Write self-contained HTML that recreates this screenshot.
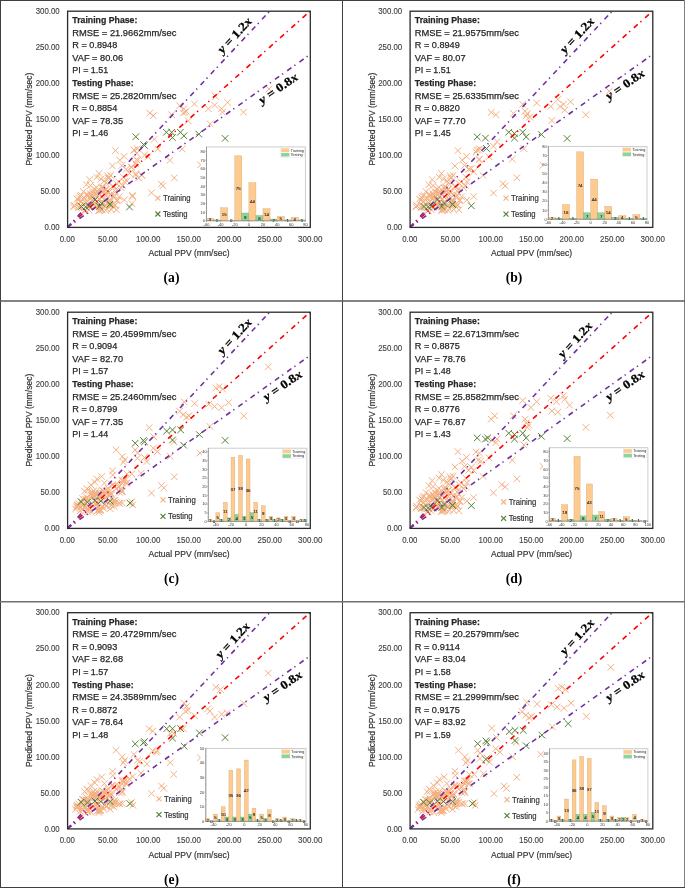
<!DOCTYPE html><html><head><meta charset="utf-8"><style>html,body{margin:0;padding:0;background:#fff;}svg{display:block;will-change:transform;font-family:"Liberation Sans",sans-serif;}</style></head><body>
<svg width="685" height="888" viewBox="0 0 685 888">
<rect width="685" height="888" fill="#fff"/>
<g transform="translate(0 0)">
<text x="59.70" y="230.30" font-size="8.4" fill="#404040" text-anchor="end" textLength="15.3" lengthAdjust="spacingAndGlyphs" stroke="#404040" stroke-width="0.12">0.00</text>
<text x="59.70" y="194.23" font-size="8.4" fill="#404040" text-anchor="end" textLength="19.2" lengthAdjust="spacingAndGlyphs" stroke="#404040" stroke-width="0.12">50.00</text>
<text x="59.70" y="158.17" font-size="8.4" fill="#404040" text-anchor="end" textLength="24.0" lengthAdjust="spacingAndGlyphs" stroke="#404040" stroke-width="0.12">100.00</text>
<text x="59.70" y="122.10" font-size="8.4" fill="#404040" text-anchor="end" textLength="24.0" lengthAdjust="spacingAndGlyphs" stroke="#404040" stroke-width="0.12">150.00</text>
<text x="59.70" y="86.03" font-size="8.4" fill="#404040" text-anchor="end" textLength="24.0" lengthAdjust="spacingAndGlyphs" stroke="#404040" stroke-width="0.12">200.00</text>
<text x="59.70" y="49.97" font-size="8.4" fill="#404040" text-anchor="end" textLength="24.0" lengthAdjust="spacingAndGlyphs" stroke="#404040" stroke-width="0.12">250.00</text>
<text x="59.70" y="13.90" font-size="8.4" fill="#404040" text-anchor="end" textLength="24.0" lengthAdjust="spacingAndGlyphs" stroke="#404040" stroke-width="0.12">300.00</text>
<text x="67.30" y="241.90" font-size="8.4" fill="#404040" text-anchor="middle" textLength="15.2" lengthAdjust="spacingAndGlyphs" stroke="#404040" stroke-width="0.12">0.00</text>
<text x="107.80" y="241.90" font-size="8.4" fill="#404040" text-anchor="middle" textLength="19.4" lengthAdjust="spacingAndGlyphs" stroke="#404040" stroke-width="0.12">50.00</text>
<text x="148.30" y="241.90" font-size="8.4" fill="#404040" text-anchor="middle" textLength="24.4" lengthAdjust="spacingAndGlyphs" stroke="#404040" stroke-width="0.12">100.00</text>
<text x="188.80" y="241.90" font-size="8.4" fill="#404040" text-anchor="middle" textLength="24.4" lengthAdjust="spacingAndGlyphs" stroke="#404040" stroke-width="0.12">150.00</text>
<text x="229.30" y="241.90" font-size="8.4" fill="#404040" text-anchor="middle" textLength="24.4" lengthAdjust="spacingAndGlyphs" stroke="#404040" stroke-width="0.12">200.00</text>
<text x="269.80" y="241.90" font-size="8.4" fill="#404040" text-anchor="middle" textLength="24.4" lengthAdjust="spacingAndGlyphs" stroke="#404040" stroke-width="0.12">250.00</text>
<text x="310.30" y="241.90" font-size="8.4" fill="#404040" text-anchor="middle" textLength="24.4" lengthAdjust="spacingAndGlyphs" stroke="#404040" stroke-width="0.12">300.00</text>
<text x="189.00" y="256.00" font-size="9.4" fill="#333" text-anchor="middle" textLength="81" lengthAdjust="spacingAndGlyphs" stroke="#333" stroke-width="0.2">Actual PPV (mm/sec)</text>
<g transform="translate(32.3 119.1) rotate(-90)"><text x="0.00" y="0.00" font-size="9.4" fill="#333" text-anchor="middle" textLength="92.6" lengthAdjust="spacingAndGlyphs" stroke="#333" stroke-width="0.2">Predicted PPV (mm/sec)</text></g>
<text x="171.50" y="282.00" font-size="13.6" font-family="Liberation Serif" font-weight="bold" fill="#000" text-anchor="middle">(a)</text>
<text x="72.30" y="23.00" font-size="9.9" font-weight="bold" fill="#262626" textLength="65.1" lengthAdjust="spacingAndGlyphs" stroke="#262626" stroke-width="0.25">Training Phase:</text>
<text x="72.30" y="35.60" font-size="9.9" fill="#262626" textLength="104" lengthAdjust="spacingAndGlyphs" stroke="#262626" stroke-width="0.25">RMSE = 21.9662mm/sec</text>
<text x="72.30" y="48.20" font-size="9.9" fill="#262626" textLength="45" lengthAdjust="spacingAndGlyphs" stroke="#262626" stroke-width="0.25">R = 0.8948</text>
<text x="72.30" y="60.80" font-size="9.9" fill="#262626" textLength="50.8" lengthAdjust="spacingAndGlyphs" stroke="#262626" stroke-width="0.25">VAF = 80.06</text>
<text x="72.30" y="73.40" font-size="9.9" fill="#262626" textLength="35.9" lengthAdjust="spacingAndGlyphs" stroke="#262626" stroke-width="0.25">PI = 1.51</text>
<text x="72.30" y="86.00" font-size="9.9" font-weight="bold" fill="#262626" textLength="61.3" lengthAdjust="spacingAndGlyphs" stroke="#262626" stroke-width="0.25">Testing Phase:</text>
<text x="72.30" y="98.60" font-size="9.9" fill="#262626" textLength="104" lengthAdjust="spacingAndGlyphs" stroke="#262626" stroke-width="0.25">RMSE = 25.2820mm/sec</text>
<text x="72.30" y="111.20" font-size="9.9" fill="#262626" textLength="45" lengthAdjust="spacingAndGlyphs" stroke="#262626" stroke-width="0.25">R = 0.8854</text>
<text x="72.30" y="123.80" font-size="9.9" fill="#262626" textLength="50.8" lengthAdjust="spacingAndGlyphs" stroke="#262626" stroke-width="0.25">VAF = 78.35</text>
<text x="72.30" y="136.40" font-size="9.9" fill="#262626" textLength="35.9" lengthAdjust="spacingAndGlyphs" stroke="#262626" stroke-width="0.25">PI = 1.46</text>
<path d="M76.8 202.7l6.6 6.6m0 -6.6l-6.6 6.6M83.2 191.0l6.6 6.6m0 -6.6l-6.6 6.6M104.2 200.7l6.6 6.6m0 -6.6l-6.6 6.6M71.2 202.3l6.6 6.6m0 -6.6l-6.6 6.6M93.3 198.5l6.6 6.6m0 -6.6l-6.6 6.6M98.4 205.7l6.6 6.6m0 -6.6l-6.6 6.6M92.9 191.1l6.6 6.6m0 -6.6l-6.6 6.6M70.8 202.3l6.6 6.6m0 -6.6l-6.6 6.6M115.3 178.7l6.6 6.6m0 -6.6l-6.6 6.6M92.1 202.1l6.6 6.6m0 -6.6l-6.6 6.6M112.0 188.4l6.6 6.6m0 -6.6l-6.6 6.6M98.8 197.9l6.6 6.6m0 -6.6l-6.6 6.6M89.6 189.2l6.6 6.6m0 -6.6l-6.6 6.6M111.0 191.9l6.6 6.6m0 -6.6l-6.6 6.6M101.1 187.7l6.6 6.6m0 -6.6l-6.6 6.6M96.3 207.1l6.6 6.6m0 -6.6l-6.6 6.6M98.3 203.1l6.6 6.6m0 -6.6l-6.6 6.6M96.9 206.1l6.6 6.6m0 -6.6l-6.6 6.6M98.7 206.3l6.6 6.6m0 -6.6l-6.6 6.6M108.9 201.4l6.6 6.6m0 -6.6l-6.6 6.6M99.5 188.8l6.6 6.6m0 -6.6l-6.6 6.6M115.8 193.5l6.6 6.6m0 -6.6l-6.6 6.6M96.5 190.7l6.6 6.6m0 -6.6l-6.6 6.6M88.0 192.5l6.6 6.6m0 -6.6l-6.6 6.6M102.2 189.8l6.6 6.6m0 -6.6l-6.6 6.6M111.9 201.6l6.6 6.6m0 -6.6l-6.6 6.6M114.3 196.9l6.6 6.6m0 -6.6l-6.6 6.6M109.7 182.9l6.6 6.6m0 -6.6l-6.6 6.6M102.8 186.1l6.6 6.6m0 -6.6l-6.6 6.6M78.2 192.1l6.6 6.6m0 -6.6l-6.6 6.6M84.2 198.2l6.6 6.6m0 -6.6l-6.6 6.6M86.8 190.3l6.6 6.6m0 -6.6l-6.6 6.6M90.2 188.6l6.6 6.6m0 -6.6l-6.6 6.6M75.5 204.4l6.6 6.6m0 -6.6l-6.6 6.6M80.8 194.7l6.6 6.6m0 -6.6l-6.6 6.6M77.5 198.4l6.6 6.6m0 -6.6l-6.6 6.6M107.0 197.1l6.6 6.6m0 -6.6l-6.6 6.6M81.4 206.9l6.6 6.6m0 -6.6l-6.6 6.6M104.1 187.7l6.6 6.6m0 -6.6l-6.6 6.6M86.7 195.5l6.6 6.6m0 -6.6l-6.6 6.6M85.5 206.6l6.6 6.6m0 -6.6l-6.6 6.6M85.9 203.0l6.6 6.6m0 -6.6l-6.6 6.6M70.1 203.7l6.6 6.6m0 -6.6l-6.6 6.6M113.1 206.5l6.6 6.6m0 -6.6l-6.6 6.6M107.0 191.5l6.6 6.6m0 -6.6l-6.6 6.6M105.4 189.0l6.6 6.6m0 -6.6l-6.6 6.6M75.2 196.7l6.6 6.6m0 -6.6l-6.6 6.6M87.9 203.8l6.6 6.6m0 -6.6l-6.6 6.6M95.4 207.2l6.6 6.6m0 -6.6l-6.6 6.6M78.7 204.8l6.6 6.6m0 -6.6l-6.6 6.6M85.1 203.3l6.6 6.6m0 -6.6l-6.6 6.6M76.9 192.9l6.6 6.6m0 -6.6l-6.6 6.6M87.8 195.0l6.6 6.6m0 -6.6l-6.6 6.6M89.7 193.5l6.6 6.6m0 -6.6l-6.6 6.6M111.4 202.0l6.6 6.6m0 -6.6l-6.6 6.6M75.8 203.9l6.6 6.6m0 -6.6l-6.6 6.6M82.4 207.3l6.6 6.6m0 -6.6l-6.6 6.6M82.5 199.3l6.6 6.6m0 -6.6l-6.6 6.6M117.9 184.4l6.6 6.6m0 -6.6l-6.6 6.6M85.4 194.4l6.6 6.6m0 -6.6l-6.6 6.6M121.1 178.4l6.6 6.6m0 -6.6l-6.6 6.6M102.4 207.0l6.6 6.6m0 -6.6l-6.6 6.6M106.2 196.5l6.6 6.6m0 -6.6l-6.6 6.6M98.4 184.8l6.6 6.6m0 -6.6l-6.6 6.6M103.8 205.7l6.6 6.6m0 -6.6l-6.6 6.6M86.5 202.7l6.6 6.6m0 -6.6l-6.6 6.6M98.5 193.8l6.6 6.6m0 -6.6l-6.6 6.6M73.7 195.7l6.6 6.6m0 -6.6l-6.6 6.6M113.2 185.3l6.6 6.6m0 -6.6l-6.6 6.6M97.0 205.0l6.6 6.6m0 -6.6l-6.6 6.6M78.1 198.3l6.6 6.6m0 -6.6l-6.6 6.6M93.7 187.8l6.6 6.6m0 -6.6l-6.6 6.6M104.0 188.5l6.6 6.6m0 -6.6l-6.6 6.6M83.4 202.1l6.6 6.6m0 -6.6l-6.6 6.6M91.0 194.9l6.6 6.6m0 -6.6l-6.6 6.6M96.2 196.1l6.6 6.6m0 -6.6l-6.6 6.6M106.1 198.8l6.6 6.6m0 -6.6l-6.6 6.6M95.9 190.5l6.6 6.6m0 -6.6l-6.6 6.6M96.8 203.7l6.6 6.6m0 -6.6l-6.6 6.6M110.3 203.8l6.6 6.6m0 -6.6l-6.6 6.6M106.4 202.7l6.6 6.6m0 -6.6l-6.6 6.6M106.9 199.0l6.6 6.6m0 -6.6l-6.6 6.6M99.9 199.7l6.6 6.6m0 -6.6l-6.6 6.6M105.8 198.4l6.6 6.6m0 -6.6l-6.6 6.6M90.0 201.2l6.6 6.6m0 -6.6l-6.6 6.6M76.0 194.5l6.6 6.6m0 -6.6l-6.6 6.6M82.9 199.4l6.6 6.6m0 -6.6l-6.6 6.6M101.8 202.3l6.6 6.6m0 -6.6l-6.6 6.6M84.8 192.6l6.6 6.6m0 -6.6l-6.6 6.6M110.5 193.5l6.6 6.6m0 -6.6l-6.6 6.6M100.0 185.0l6.6 6.6m0 -6.6l-6.6 6.6M88.6 192.1l6.6 6.6m0 -6.6l-6.6 6.6M93.1 189.5l6.6 6.6m0 -6.6l-6.6 6.6M90.9 200.5l6.6 6.6m0 -6.6l-6.6 6.6M95.8 196.1l6.6 6.6m0 -6.6l-6.6 6.6M94.2 202.2l6.6 6.6m0 -6.6l-6.6 6.6M102.6 192.2l6.6 6.6m0 -6.6l-6.6 6.6M103.6 196.1l6.6 6.6m0 -6.6l-6.6 6.6M91.3 195.5l6.6 6.6m0 -6.6l-6.6 6.6M101.8 186.2l6.6 6.6m0 -6.6l-6.6 6.6M95.9 186.7l6.6 6.6m0 -6.6l-6.6 6.6M83.1 181.4l6.6 6.6m0 -6.6l-6.6 6.6M84.2 191.4l6.6 6.6m0 -6.6l-6.6 6.6M80.1 188.2l6.6 6.6m0 -6.6l-6.6 6.6M95.7 170.1l6.6 6.6m0 -6.6l-6.6 6.6M104.3 172.4l6.6 6.6m0 -6.6l-6.6 6.6M84.5 192.7l6.6 6.6m0 -6.6l-6.6 6.6M105.1 174.8l6.6 6.6m0 -6.6l-6.6 6.6M97.7 175.8l6.6 6.6m0 -6.6l-6.6 6.6M102.5 179.7l6.6 6.6m0 -6.6l-6.6 6.6M91.1 185.7l6.6 6.6m0 -6.6l-6.6 6.6M87.2 182.3l6.6 6.6m0 -6.6l-6.6 6.6M107.2 172.0l6.6 6.6m0 -6.6l-6.6 6.6M86.4 176.3l6.6 6.6m0 -6.6l-6.6 6.6M146.5 109.7l6.6 6.6m0 -6.6l-6.6 6.6M150.0 112.4l6.6 6.6m0 -6.6l-6.6 6.6M168.4 111.5l6.6 6.6m0 -6.6l-6.6 6.6M176.3 102.4l6.6 6.6m0 -6.6l-6.6 6.6M180.6 105.4l6.6 6.6m0 -6.6l-6.6 6.6M181.5 108.9l6.6 6.6m0 -6.6l-6.6 6.6M180.1 109.7l6.6 6.6m0 -6.6l-6.6 6.6M182.9 108.0l6.6 6.6m0 -6.6l-6.6 6.6M191.1 100.6l6.6 6.6m0 -6.6l-6.6 6.6M185.0 117.6l6.6 6.6m0 -6.6l-6.6 6.6M205.2 105.4l6.6 6.6m0 -6.6l-6.6 6.6M212.2 93.1l6.6 6.6m0 -6.6l-6.6 6.6M211.3 101.9l6.6 6.6m0 -6.6l-6.6 6.6M218.3 105.4l6.6 6.6m0 -6.6l-6.6 6.6M219.2 108.9l6.6 6.6m0 -6.6l-6.6 6.6M224.4 99.2l6.6 6.6m0 -6.6l-6.6 6.6M240.2 108.9l6.6 6.6m0 -6.6l-6.6 6.6M206.9 120.6l6.6 6.6m0 -6.6l-6.6 6.6M150.9 136.0l6.6 6.6m0 -6.6l-6.6 6.6M154.4 145.7l6.6 6.6m0 -6.6l-6.6 6.6M130.7 146.5l6.6 6.6m0 -6.6l-6.6 6.6M133.3 150.0l6.6 6.6m0 -6.6l-6.6 6.6M141.2 151.8l6.6 6.6m0 -6.6l-6.6 6.6M144.7 153.5l6.6 6.6m0 -6.6l-6.6 6.6M178.9 145.7l6.6 6.6m0 -6.6l-6.6 6.6M166.6 157.0l6.6 6.6m0 -6.6l-6.6 6.6M134.2 157.0l6.6 6.6m0 -6.6l-6.6 6.6M132.5 160.5l6.6 6.6m0 -6.6l-6.6 6.6M128.1 164.0l6.6 6.6m0 -6.6l-6.6 6.6M126.3 170.2l6.6 6.6m0 -6.6l-6.6 6.6M138.6 171.9l6.6 6.6m0 -6.6l-6.6 6.6M171.0 174.6l6.6 6.6m0 -6.6l-6.6 6.6M157.9 180.7l6.6 6.6m0 -6.6l-6.6 6.6M159.6 182.4l6.6 6.6m0 -6.6l-6.6 6.6M148.2 189.5l6.6 6.6m0 -6.6l-6.6 6.6M129.0 192.1l6.6 6.6m0 -6.6l-6.6 6.6M197.3 161.6l6.6 6.6m0 -6.6l-6.6 6.6M265.7 85.7l6.6 6.6m0 -6.6l-6.6 6.6M112.1 147.3l6.6 6.6m0 -6.6l-6.6 6.6M120.8 153.1l6.6 6.6m0 -6.6l-6.6 6.6M116.4 156.8l6.6 6.6m0 -6.6l-6.6 6.6M109.1 162.6l6.6 6.6m0 -6.6l-6.6 6.6M118.6 162.2l6.6 6.6m0 -6.6l-6.6 6.6M131.0 146.9l6.6 6.6m0 -6.6l-6.6 6.6M134.0 145.5l6.6 6.6m0 -6.6l-6.6 6.6M133.2 156.4l6.6 6.6m0 -6.6l-6.6 6.6M128.1 163.7l6.6 6.6m0 -6.6l-6.6 6.6M123.0 165.9l6.6 6.6m0 -6.6l-6.6 6.6M93.4 173.9l6.6 6.6m0 -6.6l-6.6 6.6M101.1 177.6l6.6 6.6m0 -6.6l-6.6 6.6M105.5 174.7l6.6 6.6m0 -6.6l-6.6 6.6M120.1 173.9l6.6 6.6m0 -6.6l-6.6 6.6M123.7 177.6l6.6 6.6m0 -6.6l-6.6 6.6M132.5 171.7l6.6 6.6m0 -6.6l-6.6 6.6M113.5 180.5l6.6 6.6m0 -6.6l-6.6 6.6M119.4 182.0l6.6 6.6m0 -6.6l-6.6 6.6M135.4 174.7l6.6 6.6m0 -6.6l-6.6 6.6M93.1 184.1l6.6 6.6m0 -6.6l-6.6 6.6M99.7 183.4l6.6 6.6m0 -6.6l-6.6 6.6M109.1 183.4l6.6 6.6m0 -6.6l-6.6 6.6M121.1 196.6l6.6 6.6m0 -6.6l-6.6 6.6M129.3 193.3l6.6 6.6m0 -6.6l-6.6 6.6M128.6 200.3l6.6 6.6m0 -6.6l-6.6 6.6M113.6 197.4l6.6 6.6m0 -6.6l-6.6 6.6M107.8 206.1l6.6 6.6m0 -6.6l-6.6 6.6M138.4 171.8l6.6 6.6m0 -6.6l-6.6 6.6M132.6 170.3l6.6 6.6m0 -6.6l-6.6 6.6" stroke="#F4B183" stroke-width="1.0" fill="none"/>
<path d="M132.5 133.4l6.6 6.6m0 -6.6l-6.6 6.6M141.2 142.1l6.6 6.6m0 -6.6l-6.6 6.6M140.3 141.3l6.6 6.6m0 -6.6l-6.6 6.6M163.1 129.0l6.6 6.6m0 -6.6l-6.6 6.6M168.4 129.0l6.6 6.6m0 -6.6l-6.6 6.6M169.2 134.3l6.6 6.6m0 -6.6l-6.6 6.6M177.1 129.0l6.6 6.6m0 -6.6l-6.6 6.6M180.6 132.5l6.6 6.6m0 -6.6l-6.6 6.6M195.5 130.8l6.6 6.6m0 -6.6l-6.6 6.6M221.8 135.1l6.6 6.6m0 -6.6l-6.6 6.6M78.2 203.2l6.6 6.6m0 -6.6l-6.6 6.6M82.5 203.6l6.6 6.6m0 -6.6l-6.6 6.6M86.0 202.7l6.6 6.6m0 -6.6l-6.6 6.6M91.7 196.6l6.6 6.6m0 -6.6l-6.6 6.6M96.1 203.2l6.6 6.6m0 -6.6l-6.6 6.6M98.3 200.1l6.6 6.6m0 -6.6l-6.6 6.6M106.6 201.0l6.6 6.6m0 -6.6l-6.6 6.6M126.2 203.7l6.6 6.6m0 -6.6l-6.6 6.6M106.7 201.0l6.6 6.6m0 -6.6l-6.6 6.6" stroke="#548235" stroke-width="1.0" fill="none"/>
<rect x="200.8" y="145.4" width="105.79999999999995" height="81.19999999999999" fill="#fff"/>
<rect x="206.5" y="146.9" width="98.89999999999998" height="73.9" fill="none" stroke="#C8C8C8" stroke-width="0.9"/>
<rect x="206.50" y="218.20" width="7.06" height="2.60" fill="#FDCA8F" stroke="#D4A26A" stroke-width="0.35"/>
<text x="210.03" y="221.10" font-size="4.4" fill="#222" text-anchor="middle" stroke="#222" stroke-width="0.1">3</text>
<rect x="213.56" y="219.93" width="7.06" height="0.87" fill="#8FD39A" stroke="#5DA86A" stroke-width="0.35"/>
<text x="217.10" y="221.97" font-size="4.4" fill="#222" text-anchor="middle" stroke="#222" stroke-width="0.1">1</text>
<rect x="220.63" y="207.81" width="7.06" height="12.99" fill="#FDCA8F" stroke="#D4A26A" stroke-width="0.35"/>
<text x="224.16" y="215.91" font-size="4.4" fill="#222" text-anchor="middle" stroke="#222" stroke-width="0.1">15</text>
<text x="231.23" y="222.40" font-size="4.4" fill="#222" text-anchor="middle" stroke="#222" stroke-width="0.1">0</text>
<rect x="234.76" y="155.85" width="7.06" height="64.95" fill="#FDCA8F" stroke="#D4A26A" stroke-width="0.35"/>
<text x="238.29" y="189.93" font-size="4.4" fill="#222" text-anchor="middle" stroke="#222" stroke-width="0.1">75</text>
<rect x="241.82" y="213.01" width="7.06" height="7.79" fill="#8FD39A" stroke="#5DA86A" stroke-width="0.35"/>
<text x="245.35" y="218.50" font-size="4.4" fill="#222" text-anchor="middle" stroke="#222" stroke-width="0.1">9</text>
<rect x="248.89" y="182.70" width="7.06" height="38.10" fill="#FDCA8F" stroke="#D4A26A" stroke-width="0.35"/>
<text x="252.42" y="203.35" font-size="4.4" fill="#222" text-anchor="middle" stroke="#222" stroke-width="0.1">44</text>
<rect x="255.95" y="215.60" width="7.06" height="5.20" fill="#8FD39A" stroke="#5DA86A" stroke-width="0.35"/>
<text x="259.48" y="219.80" font-size="4.4" fill="#222" text-anchor="middle" stroke="#222" stroke-width="0.1">6</text>
<rect x="263.01" y="208.68" width="7.06" height="12.12" fill="#FDCA8F" stroke="#D4A26A" stroke-width="0.35"/>
<text x="266.55" y="216.34" font-size="4.4" fill="#222" text-anchor="middle" stroke="#222" stroke-width="0.1">14</text>
<rect x="270.08" y="219.07" width="7.06" height="1.73" fill="#8FD39A" stroke="#5DA86A" stroke-width="0.35"/>
<text x="273.61" y="221.53" font-size="4.4" fill="#222" text-anchor="middle" stroke="#222" stroke-width="0.1">2</text>
<rect x="277.14" y="216.47" width="7.06" height="4.33" fill="#FDCA8F" stroke="#D4A26A" stroke-width="0.35"/>
<text x="280.67" y="220.24" font-size="4.4" fill="#222" text-anchor="middle" stroke="#222" stroke-width="0.1">5</text>
<rect x="284.21" y="219.93" width="7.06" height="0.87" fill="#8FD39A" stroke="#5DA86A" stroke-width="0.35"/>
<text x="287.74" y="221.97" font-size="4.4" fill="#222" text-anchor="middle" stroke="#222" stroke-width="0.1">1</text>
<rect x="291.27" y="217.34" width="7.06" height="3.46" fill="#FDCA8F" stroke="#D4A26A" stroke-width="0.35"/>
<text x="294.80" y="220.67" font-size="4.4" fill="#222" text-anchor="middle" stroke="#222" stroke-width="0.1">4</text>
<rect x="298.34" y="219.93" width="7.06" height="0.87" fill="#8FD39A" stroke="#5DA86A" stroke-width="0.35"/>
<text x="301.87" y="221.97" font-size="4.4" fill="#222" text-anchor="middle" stroke="#222" stroke-width="0.1">1</text>
<path d="M206.5 146.9V220.8H305.4" fill="none" stroke="#777" stroke-width="0.6"/>
<path d="M205.30 220.80H206.5" stroke="#777" stroke-width="0.5"/>
<text x="204.90" y="222.20" font-size="4.0" fill="#333" text-anchor="end">0</text>
<path d="M205.80 216.47H206.5" stroke="#777" stroke-width="0.4"/>
<path d="M205.30 212.14H206.5" stroke="#777" stroke-width="0.5"/>
<text x="204.90" y="213.54" font-size="4.0" fill="#333" text-anchor="end">10</text>
<path d="M205.80 207.81H206.5" stroke="#777" stroke-width="0.4"/>
<path d="M205.30 203.48H206.5" stroke="#777" stroke-width="0.5"/>
<text x="204.90" y="204.88" font-size="4.0" fill="#333" text-anchor="end">20</text>
<path d="M205.80 199.15H206.5" stroke="#777" stroke-width="0.4"/>
<path d="M205.30 194.82H206.5" stroke="#777" stroke-width="0.5"/>
<text x="204.90" y="196.22" font-size="4.0" fill="#333" text-anchor="end">30</text>
<path d="M205.80 190.49H206.5" stroke="#777" stroke-width="0.4"/>
<path d="M205.30 186.16H206.5" stroke="#777" stroke-width="0.5"/>
<text x="204.90" y="187.56" font-size="4.0" fill="#333" text-anchor="end">40</text>
<path d="M205.80 181.83H206.5" stroke="#777" stroke-width="0.4"/>
<path d="M205.30 177.50H206.5" stroke="#777" stroke-width="0.5"/>
<text x="204.90" y="178.90" font-size="4.0" fill="#333" text-anchor="end">50</text>
<path d="M205.80 173.17H206.5" stroke="#777" stroke-width="0.4"/>
<path d="M205.30 168.84H206.5" stroke="#777" stroke-width="0.5"/>
<text x="204.90" y="170.24" font-size="4.0" fill="#333" text-anchor="end">60</text>
<path d="M205.80 164.51H206.5" stroke="#777" stroke-width="0.4"/>
<path d="M205.30 160.18H206.5" stroke="#777" stroke-width="0.5"/>
<text x="204.90" y="161.58" font-size="4.0" fill="#333" text-anchor="end">70</text>
<path d="M205.80 155.85H206.5" stroke="#777" stroke-width="0.4"/>
<path d="M205.30 151.52H206.5" stroke="#777" stroke-width="0.5"/>
<text x="204.90" y="152.92" font-size="4.0" fill="#333" text-anchor="end">80</text>
<path d="M206.50 220.8V222.0" stroke="#777" stroke-width="0.5"/>
<text x="206.50" y="225.60" font-size="4.0" fill="#333" text-anchor="middle">-60</text>
<path d="M220.63 220.8V222.0" stroke="#777" stroke-width="0.5"/>
<text x="220.63" y="225.60" font-size="4.0" fill="#333" text-anchor="middle">-40</text>
<path d="M234.76 220.8V222.0" stroke="#777" stroke-width="0.5"/>
<text x="234.76" y="225.60" font-size="4.0" fill="#333" text-anchor="middle">-20</text>
<path d="M248.89 220.8V222.0" stroke="#777" stroke-width="0.5"/>
<text x="248.89" y="225.60" font-size="4.0" fill="#333" text-anchor="middle">0</text>
<path d="M263.01 220.8V222.0" stroke="#777" stroke-width="0.5"/>
<text x="263.01" y="225.60" font-size="4.0" fill="#333" text-anchor="middle">20</text>
<path d="M277.14 220.8V222.0" stroke="#777" stroke-width="0.5"/>
<text x="277.14" y="225.60" font-size="4.0" fill="#333" text-anchor="middle">40</text>
<path d="M291.27 220.8V222.0" stroke="#777" stroke-width="0.5"/>
<text x="291.27" y="225.60" font-size="4.0" fill="#333" text-anchor="middle">60</text>
<path d="M305.40 220.8V222.0" stroke="#777" stroke-width="0.5"/>
<text x="305.40" y="225.60" font-size="4.0" fill="#333" text-anchor="middle">80</text>
<rect x="280.80" y="147.70" width="23.4" height="9.5" fill="#fff" stroke="#E0E0E0" stroke-width="0.4"/>
<rect x="281.10" y="148.30" width="8.3" height="3.7" fill="#FDCA8F"/>
<rect x="281.10" y="152.90" width="8.3" height="3.7" fill="#8FD39A"/>
<text x="290.70" y="151.50" font-size="4.0" fill="#222" textLength="13" lengthAdjust="spacingAndGlyphs">Training</text>
<text x="290.70" y="156.10" font-size="4.0" fill="#222" textLength="12" lengthAdjust="spacingAndGlyphs">Testing</text>
<clipPath id="clipa"><rect x="67.3" y="11.0" width="243.0" height="216.4"/></clipPath>
<g clip-path="url(#clipa)" fill="none" stroke-width="1.6" stroke-dasharray="5.2 3.6 1.3 4.9">
<line x1="67.3" y1="227.4" x2="310.3" y2="11.0" stroke="#FF0000"/>
<line x1="67.3" y1="227.4" x2="269.8" y2="11.0" stroke="#7030A0"/>
<line x1="67.3" y1="227.4" x2="310.3" y2="54.28" stroke="#7030A0"/>
</g>
<rect x="67.6" y="11.2" width="242.7" height="216.2" fill="none" stroke="#2a2a2a" stroke-width="1.3"/>
<g transform="translate(222.5 54.099999999999994) rotate(-47)"><text x="0.00" y="0.00" font-size="12.0" font-family="Liberation Serif" font-weight="bold" fill="#000" textLength="44" lengthAdjust="spacingAndGlyphs" stroke="#000" stroke-width="0.25"><tspan font-style="italic">y</tspan> = 1.2<tspan font-style="italic">x</tspan></text></g>
<g transform="translate(262.1 104.2) rotate(-34.5)"><text x="0.00" y="0.00" font-size="11.8" font-family="Liberation Serif" font-weight="bold" fill="#000" textLength="44.5" lengthAdjust="spacingAndGlyphs" stroke="#000" stroke-width="0.25"><tspan font-style="italic">y</tspan> = 0.8<tspan font-style="italic">x</tspan></text></g>
<path d="M155.4 195.6L160.4 200.6M155.4 200.6L160.4 195.6" stroke="#F4B183" stroke-width="1.2"/>
<text x="163.00" y="200.90" font-size="9.2" fill="#333" textLength="27.6" lengthAdjust="spacingAndGlyphs" stroke="#333" stroke-width="0.2">Training</text>
<path d="M155.4 211.5L160.4 216.5M155.4 216.5L160.4 211.5" stroke="#548235" stroke-width="1.2"/>
<text x="163.00" y="216.80" font-size="9.2" fill="#333" textLength="24.5" lengthAdjust="spacingAndGlyphs" stroke="#333" stroke-width="0.2">Testing</text>
</g>
<g transform="translate(342.5 0)">
<text x="59.70" y="230.30" font-size="8.4" fill="#404040" text-anchor="end" textLength="15.3" lengthAdjust="spacingAndGlyphs" stroke="#404040" stroke-width="0.12">0.00</text>
<text x="59.70" y="194.23" font-size="8.4" fill="#404040" text-anchor="end" textLength="19.2" lengthAdjust="spacingAndGlyphs" stroke="#404040" stroke-width="0.12">50.00</text>
<text x="59.70" y="158.17" font-size="8.4" fill="#404040" text-anchor="end" textLength="24.0" lengthAdjust="spacingAndGlyphs" stroke="#404040" stroke-width="0.12">100.00</text>
<text x="59.70" y="122.10" font-size="8.4" fill="#404040" text-anchor="end" textLength="24.0" lengthAdjust="spacingAndGlyphs" stroke="#404040" stroke-width="0.12">150.00</text>
<text x="59.70" y="86.03" font-size="8.4" fill="#404040" text-anchor="end" textLength="24.0" lengthAdjust="spacingAndGlyphs" stroke="#404040" stroke-width="0.12">200.00</text>
<text x="59.70" y="49.97" font-size="8.4" fill="#404040" text-anchor="end" textLength="24.0" lengthAdjust="spacingAndGlyphs" stroke="#404040" stroke-width="0.12">250.00</text>
<text x="59.70" y="13.90" font-size="8.4" fill="#404040" text-anchor="end" textLength="24.0" lengthAdjust="spacingAndGlyphs" stroke="#404040" stroke-width="0.12">300.00</text>
<text x="67.30" y="241.90" font-size="8.4" fill="#404040" text-anchor="middle" textLength="15.2" lengthAdjust="spacingAndGlyphs" stroke="#404040" stroke-width="0.12">0.00</text>
<text x="107.80" y="241.90" font-size="8.4" fill="#404040" text-anchor="middle" textLength="19.4" lengthAdjust="spacingAndGlyphs" stroke="#404040" stroke-width="0.12">50.00</text>
<text x="148.30" y="241.90" font-size="8.4" fill="#404040" text-anchor="middle" textLength="24.4" lengthAdjust="spacingAndGlyphs" stroke="#404040" stroke-width="0.12">100.00</text>
<text x="188.80" y="241.90" font-size="8.4" fill="#404040" text-anchor="middle" textLength="24.4" lengthAdjust="spacingAndGlyphs" stroke="#404040" stroke-width="0.12">150.00</text>
<text x="229.30" y="241.90" font-size="8.4" fill="#404040" text-anchor="middle" textLength="24.4" lengthAdjust="spacingAndGlyphs" stroke="#404040" stroke-width="0.12">200.00</text>
<text x="269.80" y="241.90" font-size="8.4" fill="#404040" text-anchor="middle" textLength="24.4" lengthAdjust="spacingAndGlyphs" stroke="#404040" stroke-width="0.12">250.00</text>
<text x="310.30" y="241.90" font-size="8.4" fill="#404040" text-anchor="middle" textLength="24.4" lengthAdjust="spacingAndGlyphs" stroke="#404040" stroke-width="0.12">300.00</text>
<text x="189.00" y="256.00" font-size="9.4" fill="#333" text-anchor="middle" textLength="81" lengthAdjust="spacingAndGlyphs" stroke="#333" stroke-width="0.2">Actual PPV (mm/sec)</text>
<g transform="translate(32.3 119.1) rotate(-90)"><text x="0.00" y="0.00" font-size="9.4" fill="#333" text-anchor="middle" textLength="92.6" lengthAdjust="spacingAndGlyphs" stroke="#333" stroke-width="0.2">Predicted PPV (mm/sec)</text></g>
<text x="171.50" y="282.00" font-size="13.6" font-family="Liberation Serif" font-weight="bold" fill="#000" text-anchor="middle">(b)</text>
<text x="72.30" y="23.00" font-size="9.9" font-weight="bold" fill="#262626" textLength="65.1" lengthAdjust="spacingAndGlyphs" stroke="#262626" stroke-width="0.25">Training Phase:</text>
<text x="72.30" y="35.60" font-size="9.9" fill="#262626" textLength="104" lengthAdjust="spacingAndGlyphs" stroke="#262626" stroke-width="0.25">RMSE = 21.9575mm/sec</text>
<text x="72.30" y="48.20" font-size="9.9" fill="#262626" textLength="45" lengthAdjust="spacingAndGlyphs" stroke="#262626" stroke-width="0.25">R = 0.8949</text>
<text x="72.30" y="60.80" font-size="9.9" fill="#262626" textLength="50.8" lengthAdjust="spacingAndGlyphs" stroke="#262626" stroke-width="0.25">VAF = 80.07</text>
<text x="72.30" y="73.40" font-size="9.9" fill="#262626" textLength="35.9" lengthAdjust="spacingAndGlyphs" stroke="#262626" stroke-width="0.25">PI = 1.51</text>
<text x="72.30" y="86.00" font-size="9.9" font-weight="bold" fill="#262626" textLength="61.3" lengthAdjust="spacingAndGlyphs" stroke="#262626" stroke-width="0.25">Testing Phase:</text>
<text x="72.30" y="98.60" font-size="9.9" fill="#262626" textLength="104" lengthAdjust="spacingAndGlyphs" stroke="#262626" stroke-width="0.25">RMSE = 25.6335mm/sec</text>
<text x="72.30" y="111.20" font-size="9.9" fill="#262626" textLength="45" lengthAdjust="spacingAndGlyphs" stroke="#262626" stroke-width="0.25">R = 0.8820</text>
<text x="72.30" y="123.80" font-size="9.9" fill="#262626" textLength="50.8" lengthAdjust="spacingAndGlyphs" stroke="#262626" stroke-width="0.25">VAF = 77.70</text>
<text x="72.30" y="136.40" font-size="9.9" fill="#262626" textLength="35.9" lengthAdjust="spacingAndGlyphs" stroke="#262626" stroke-width="0.25">PI = 1.45</text>
<path d="M76.8 202.7l6.6 6.6m0 -6.6l-6.6 6.6M83.2 191.0l6.6 6.6m0 -6.6l-6.6 6.6M104.2 200.7l6.6 6.6m0 -6.6l-6.6 6.6M71.2 202.3l6.6 6.6m0 -6.6l-6.6 6.6M93.3 198.5l6.6 6.6m0 -6.6l-6.6 6.6M98.4 205.7l6.6 6.6m0 -6.6l-6.6 6.6M92.9 191.1l6.6 6.6m0 -6.6l-6.6 6.6M70.8 202.3l6.6 6.6m0 -6.6l-6.6 6.6M115.3 178.7l6.6 6.6m0 -6.6l-6.6 6.6M92.1 202.1l6.6 6.6m0 -6.6l-6.6 6.6M112.0 188.4l6.6 6.6m0 -6.6l-6.6 6.6M98.8 197.9l6.6 6.6m0 -6.6l-6.6 6.6M89.6 189.2l6.6 6.6m0 -6.6l-6.6 6.6M111.0 191.9l6.6 6.6m0 -6.6l-6.6 6.6M101.1 187.7l6.6 6.6m0 -6.6l-6.6 6.6M96.3 207.1l6.6 6.6m0 -6.6l-6.6 6.6M98.3 203.1l6.6 6.6m0 -6.6l-6.6 6.6M96.9 206.1l6.6 6.6m0 -6.6l-6.6 6.6M98.7 206.3l6.6 6.6m0 -6.6l-6.6 6.6M108.9 201.4l6.6 6.6m0 -6.6l-6.6 6.6M99.5 188.8l6.6 6.6m0 -6.6l-6.6 6.6M115.8 193.5l6.6 6.6m0 -6.6l-6.6 6.6M96.5 190.7l6.6 6.6m0 -6.6l-6.6 6.6M88.0 192.5l6.6 6.6m0 -6.6l-6.6 6.6M102.2 189.8l6.6 6.6m0 -6.6l-6.6 6.6M111.9 201.6l6.6 6.6m0 -6.6l-6.6 6.6M114.3 196.9l6.6 6.6m0 -6.6l-6.6 6.6M109.7 182.9l6.6 6.6m0 -6.6l-6.6 6.6M102.8 186.1l6.6 6.6m0 -6.6l-6.6 6.6M78.2 192.1l6.6 6.6m0 -6.6l-6.6 6.6M84.2 198.2l6.6 6.6m0 -6.6l-6.6 6.6M86.8 190.3l6.6 6.6m0 -6.6l-6.6 6.6M90.2 188.6l6.6 6.6m0 -6.6l-6.6 6.6M75.5 204.4l6.6 6.6m0 -6.6l-6.6 6.6M80.8 194.7l6.6 6.6m0 -6.6l-6.6 6.6M77.5 198.4l6.6 6.6m0 -6.6l-6.6 6.6M107.0 197.1l6.6 6.6m0 -6.6l-6.6 6.6M81.4 206.9l6.6 6.6m0 -6.6l-6.6 6.6M104.1 187.7l6.6 6.6m0 -6.6l-6.6 6.6M86.7 195.5l6.6 6.6m0 -6.6l-6.6 6.6M85.5 206.6l6.6 6.6m0 -6.6l-6.6 6.6M85.9 203.0l6.6 6.6m0 -6.6l-6.6 6.6M70.1 203.7l6.6 6.6m0 -6.6l-6.6 6.6M113.1 206.5l6.6 6.6m0 -6.6l-6.6 6.6M107.0 191.5l6.6 6.6m0 -6.6l-6.6 6.6M105.4 189.0l6.6 6.6m0 -6.6l-6.6 6.6M75.2 196.7l6.6 6.6m0 -6.6l-6.6 6.6M87.9 203.8l6.6 6.6m0 -6.6l-6.6 6.6M95.4 207.2l6.6 6.6m0 -6.6l-6.6 6.6M78.7 204.8l6.6 6.6m0 -6.6l-6.6 6.6M85.1 203.3l6.6 6.6m0 -6.6l-6.6 6.6M76.9 192.9l6.6 6.6m0 -6.6l-6.6 6.6M87.8 195.0l6.6 6.6m0 -6.6l-6.6 6.6M89.7 193.5l6.6 6.6m0 -6.6l-6.6 6.6M111.4 202.0l6.6 6.6m0 -6.6l-6.6 6.6M75.8 203.9l6.6 6.6m0 -6.6l-6.6 6.6M82.4 207.3l6.6 6.6m0 -6.6l-6.6 6.6M82.5 199.3l6.6 6.6m0 -6.6l-6.6 6.6M117.9 184.4l6.6 6.6m0 -6.6l-6.6 6.6M85.4 194.4l6.6 6.6m0 -6.6l-6.6 6.6M121.1 178.4l6.6 6.6m0 -6.6l-6.6 6.6M102.4 207.0l6.6 6.6m0 -6.6l-6.6 6.6M106.2 196.5l6.6 6.6m0 -6.6l-6.6 6.6M98.4 184.8l6.6 6.6m0 -6.6l-6.6 6.6M103.8 205.7l6.6 6.6m0 -6.6l-6.6 6.6M86.5 202.7l6.6 6.6m0 -6.6l-6.6 6.6M98.5 193.8l6.6 6.6m0 -6.6l-6.6 6.6M73.7 195.7l6.6 6.6m0 -6.6l-6.6 6.6M113.2 185.3l6.6 6.6m0 -6.6l-6.6 6.6M97.0 205.0l6.6 6.6m0 -6.6l-6.6 6.6M78.1 198.3l6.6 6.6m0 -6.6l-6.6 6.6M93.7 187.8l6.6 6.6m0 -6.6l-6.6 6.6M104.0 188.5l6.6 6.6m0 -6.6l-6.6 6.6M83.4 202.1l6.6 6.6m0 -6.6l-6.6 6.6M91.0 194.9l6.6 6.6m0 -6.6l-6.6 6.6M96.2 196.1l6.6 6.6m0 -6.6l-6.6 6.6M106.1 198.8l6.6 6.6m0 -6.6l-6.6 6.6M95.9 190.5l6.6 6.6m0 -6.6l-6.6 6.6M96.8 203.7l6.6 6.6m0 -6.6l-6.6 6.6M110.3 203.8l6.6 6.6m0 -6.6l-6.6 6.6M106.4 202.7l6.6 6.6m0 -6.6l-6.6 6.6M106.9 199.0l6.6 6.6m0 -6.6l-6.6 6.6M99.9 199.7l6.6 6.6m0 -6.6l-6.6 6.6M105.8 198.4l6.6 6.6m0 -6.6l-6.6 6.6M90.0 201.2l6.6 6.6m0 -6.6l-6.6 6.6M76.0 194.5l6.6 6.6m0 -6.6l-6.6 6.6M82.9 199.4l6.6 6.6m0 -6.6l-6.6 6.6M101.8 202.3l6.6 6.6m0 -6.6l-6.6 6.6M84.8 192.6l6.6 6.6m0 -6.6l-6.6 6.6M110.5 193.5l6.6 6.6m0 -6.6l-6.6 6.6M100.0 185.0l6.6 6.6m0 -6.6l-6.6 6.6M88.6 192.1l6.6 6.6m0 -6.6l-6.6 6.6M93.1 189.5l6.6 6.6m0 -6.6l-6.6 6.6M90.9 200.5l6.6 6.6m0 -6.6l-6.6 6.6M95.8 196.1l6.6 6.6m0 -6.6l-6.6 6.6M94.2 202.2l6.6 6.6m0 -6.6l-6.6 6.6M102.6 192.2l6.6 6.6m0 -6.6l-6.6 6.6M103.6 196.1l6.6 6.6m0 -6.6l-6.6 6.6M91.3 195.5l6.6 6.6m0 -6.6l-6.6 6.6M101.8 186.2l6.6 6.6m0 -6.6l-6.6 6.6M95.9 186.7l6.6 6.6m0 -6.6l-6.6 6.6M83.1 181.4l6.6 6.6m0 -6.6l-6.6 6.6M84.2 191.4l6.6 6.6m0 -6.6l-6.6 6.6M80.1 188.2l6.6 6.6m0 -6.6l-6.6 6.6M95.7 170.1l6.6 6.6m0 -6.6l-6.6 6.6M104.3 172.4l6.6 6.6m0 -6.6l-6.6 6.6M84.5 192.7l6.6 6.6m0 -6.6l-6.6 6.6M105.1 174.8l6.6 6.6m0 -6.6l-6.6 6.6M97.7 175.8l6.6 6.6m0 -6.6l-6.6 6.6M102.5 179.7l6.6 6.6m0 -6.6l-6.6 6.6M91.1 185.7l6.6 6.6m0 -6.6l-6.6 6.6M87.2 182.3l6.6 6.6m0 -6.6l-6.6 6.6M107.2 172.0l6.6 6.6m0 -6.6l-6.6 6.6M86.4 176.3l6.6 6.6m0 -6.6l-6.6 6.6M112.1 147.3l6.6 6.6m0 -6.6l-6.6 6.6M120.8 153.1l6.6 6.6m0 -6.6l-6.6 6.6M116.4 156.8l6.6 6.6m0 -6.6l-6.6 6.6M109.1 162.6l6.6 6.6m0 -6.6l-6.6 6.6M118.6 162.2l6.6 6.6m0 -6.6l-6.6 6.6M123.0 165.9l6.6 6.6m0 -6.6l-6.6 6.6M93.4 173.9l6.6 6.6m0 -6.6l-6.6 6.6M101.1 177.6l6.6 6.6m0 -6.6l-6.6 6.6M105.5 174.7l6.6 6.6m0 -6.6l-6.6 6.6M120.1 173.9l6.6 6.6m0 -6.6l-6.6 6.6M113.5 180.5l6.6 6.6m0 -6.6l-6.6 6.6M119.4 182.0l6.6 6.6m0 -6.6l-6.6 6.6M93.1 184.1l6.6 6.6m0 -6.6l-6.6 6.6M99.7 183.4l6.6 6.6m0 -6.6l-6.6 6.6M109.1 183.4l6.6 6.6m0 -6.6l-6.6 6.6M121.1 196.6l6.6 6.6m0 -6.6l-6.6 6.6M113.6 197.4l6.6 6.6m0 -6.6l-6.6 6.6M107.8 206.1l6.6 6.6m0 -6.6l-6.6 6.6M263.4 88.0l6.6 6.6m0 -6.6l-6.6 6.6M240.0 111.4l6.6 6.6m0 -6.6l-6.6 6.6M224.8 98.5l6.6 6.6m0 -6.6l-6.6 6.6M217.8 100.9l6.6 6.6m0 -6.6l-6.6 6.6M212.0 96.2l6.6 6.6m0 -6.6l-6.6 6.6M214.3 103.2l6.6 6.6m0 -6.6l-6.6 6.6M219.0 106.7l6.6 6.6m0 -6.6l-6.6 6.6M205.0 103.2l6.6 6.6m0 -6.6l-6.6 6.6M190.9 99.7l6.6 6.6m0 -6.6l-6.6 6.6M176.9 100.9l6.6 6.6m0 -6.6l-6.6 6.6M179.3 107.9l6.6 6.6m0 -6.6l-6.6 6.6M181.6 110.2l6.6 6.6m0 -6.6l-6.6 6.6M180.4 112.6l6.6 6.6m0 -6.6l-6.6 6.6M183.9 113.7l6.6 6.6m0 -6.6l-6.6 6.6M206.1 117.2l6.6 6.6m0 -6.6l-6.6 6.6M167.6 110.2l6.6 6.6m0 -6.6l-6.6 6.6M145.4 109.1l6.6 6.6m0 -6.6l-6.6 6.6M150.1 111.4l6.6 6.6m0 -6.6l-6.6 6.6M147.7 142.9l6.6 6.6m0 -6.6l-6.6 6.6M151.2 138.3l6.6 6.6m0 -6.6l-6.6 6.6M132.5 146.4l6.6 6.6m0 -6.6l-6.6 6.6M130.2 148.8l6.6 6.6m0 -6.6l-6.6 6.6M133.7 155.8l6.6 6.6m0 -6.6l-6.6 6.6M143.1 153.4l6.6 6.6m0 -6.6l-6.6 6.6M166.4 155.8l6.6 6.6m0 -6.6l-6.6 6.6M178.1 145.3l6.6 6.6m0 -6.6l-6.6 6.6M125.5 165.1l6.6 6.6m0 -6.6l-6.6 6.6M127.9 168.6l6.6 6.6m0 -6.6l-6.6 6.6M137.2 172.1l6.6 6.6m0 -6.6l-6.6 6.6M171.1 174.5l6.6 6.6m0 -6.6l-6.6 6.6M157.1 180.3l6.6 6.6m0 -6.6l-6.6 6.6M159.4 182.6l6.6 6.6m0 -6.6l-6.6 6.6M147.7 189.7l6.6 6.6m0 -6.6l-6.6 6.6M127.9 193.2l6.6 6.6m0 -6.6l-6.6 6.6M197.2 162.0l6.6 6.6m0 -6.6l-6.6 6.6M133.2 156.4l6.6 6.6m0 -6.6l-6.6 6.6M123.0 165.9l6.6 6.6m0 -6.6l-6.6 6.6M131.0 146.9l6.6 6.6m0 -6.6l-6.6 6.6M134.0 145.5l6.6 6.6m0 -6.6l-6.6 6.6" stroke="#F4B183" stroke-width="1.0" fill="none"/>
<path d="M78.2 203.2l6.6 6.6m0 -6.6l-6.6 6.6M82.5 203.6l6.6 6.6m0 -6.6l-6.6 6.6M86.0 202.7l6.6 6.6m0 -6.6l-6.6 6.6M91.7 196.6l6.6 6.6m0 -6.6l-6.6 6.6M96.1 203.2l6.6 6.6m0 -6.6l-6.6 6.6M98.3 200.1l6.6 6.6m0 -6.6l-6.6 6.6M106.6 201.0l6.6 6.6m0 -6.6l-6.6 6.6M106.7 201.0l6.6 6.6m0 -6.6l-6.6 6.6M131.4 133.6l6.6 6.6m0 -6.6l-6.6 6.6M139.6 134.8l6.6 6.6m0 -6.6l-6.6 6.6M140.7 145.3l6.6 6.6m0 -6.6l-6.6 6.6M162.9 128.9l6.6 6.6m0 -6.6l-6.6 6.6M168.7 130.1l6.6 6.6m0 -6.6l-6.6 6.6M168.7 134.8l6.6 6.6m0 -6.6l-6.6 6.6M176.9 128.9l6.6 6.6m0 -6.6l-6.6 6.6M180.4 133.6l6.6 6.6m0 -6.6l-6.6 6.6M195.6 131.2l6.6 6.6m0 -6.6l-6.6 6.6M221.3 135.2l6.6 6.6m0 -6.6l-6.6 6.6M125.5 202.5l6.6 6.6m0 -6.6l-6.6 6.6" stroke="#548235" stroke-width="1.0" fill="none"/>
<rect x="200.2" y="144.9" width="105.5" height="81.69999999999999" fill="#fff"/>
<rect x="205.9" y="146.4" width="98.6" height="72.79999999999998" fill="none" stroke="#C8C8C8" stroke-width="0.9"/>
<rect x="205.90" y="217.38" width="7.04" height="1.82" fill="#FDCA8F" stroke="#D4A26A" stroke-width="0.35"/>
<text x="209.42" y="219.89" font-size="4.4" fill="#222" text-anchor="middle" stroke="#222" stroke-width="0.1">2</text>
<rect x="212.94" y="218.29" width="7.04" height="0.91" fill="#8FD39A" stroke="#5DA86A" stroke-width="0.35"/>
<text x="216.46" y="220.34" font-size="4.4" fill="#222" text-anchor="middle" stroke="#222" stroke-width="0.1">1</text>
<rect x="219.99" y="204.64" width="7.04" height="14.56" fill="#FDCA8F" stroke="#D4A26A" stroke-width="0.35"/>
<text x="223.51" y="213.52" font-size="4.4" fill="#222" text-anchor="middle" stroke="#222" stroke-width="0.1">16</text>
<rect x="227.03" y="218.29" width="7.04" height="0.91" fill="#8FD39A" stroke="#5DA86A" stroke-width="0.35"/>
<text x="230.55" y="220.34" font-size="4.4" fill="#222" text-anchor="middle" stroke="#222" stroke-width="0.1">1</text>
<rect x="234.07" y="151.86" width="7.04" height="67.34" fill="#FDCA8F" stroke="#D4A26A" stroke-width="0.35"/>
<text x="237.59" y="187.13" font-size="4.4" fill="#222" text-anchor="middle" stroke="#222" stroke-width="0.1">74</text>
<rect x="241.11" y="212.83" width="7.04" height="6.37" fill="#8FD39A" stroke="#5DA86A" stroke-width="0.35"/>
<text x="244.64" y="217.61" font-size="4.4" fill="#222" text-anchor="middle" stroke="#222" stroke-width="0.1">7</text>
<rect x="248.16" y="179.16" width="7.04" height="40.04" fill="#FDCA8F" stroke="#D4A26A" stroke-width="0.35"/>
<text x="251.68" y="200.78" font-size="4.4" fill="#222" text-anchor="middle" stroke="#222" stroke-width="0.1">44</text>
<rect x="255.20" y="212.83" width="7.04" height="6.37" fill="#8FD39A" stroke="#5DA86A" stroke-width="0.35"/>
<text x="258.72" y="217.61" font-size="4.4" fill="#222" text-anchor="middle" stroke="#222" stroke-width="0.1">7</text>
<rect x="262.24" y="206.46" width="7.04" height="12.74" fill="#FDCA8F" stroke="#D4A26A" stroke-width="0.35"/>
<text x="265.76" y="214.43" font-size="4.4" fill="#222" text-anchor="middle" stroke="#222" stroke-width="0.1">14</text>
<rect x="269.29" y="217.38" width="7.04" height="1.82" fill="#8FD39A" stroke="#5DA86A" stroke-width="0.35"/>
<text x="272.81" y="219.89" font-size="4.4" fill="#222" text-anchor="middle" stroke="#222" stroke-width="0.1">2</text>
<rect x="276.33" y="215.56" width="7.04" height="3.64" fill="#FDCA8F" stroke="#D4A26A" stroke-width="0.35"/>
<text x="279.85" y="218.98" font-size="4.4" fill="#222" text-anchor="middle" stroke="#222" stroke-width="0.1">4</text>
<rect x="283.37" y="218.29" width="7.04" height="0.91" fill="#8FD39A" stroke="#5DA86A" stroke-width="0.35"/>
<text x="286.89" y="220.34" font-size="4.4" fill="#222" text-anchor="middle" stroke="#222" stroke-width="0.1">1</text>
<rect x="290.41" y="214.65" width="7.04" height="4.55" fill="#FDCA8F" stroke="#D4A26A" stroke-width="0.35"/>
<text x="293.94" y="218.52" font-size="4.4" fill="#222" text-anchor="middle" stroke="#222" stroke-width="0.1">5</text>
<rect x="297.46" y="218.29" width="7.04" height="0.91" fill="#8FD39A" stroke="#5DA86A" stroke-width="0.35"/>
<text x="300.98" y="220.34" font-size="4.4" fill="#222" text-anchor="middle" stroke="#222" stroke-width="0.1">1</text>
<path d="M205.9 146.4V219.2H304.5" fill="none" stroke="#777" stroke-width="0.6"/>
<path d="M204.70 219.20H205.9" stroke="#777" stroke-width="0.5"/>
<text x="204.30" y="220.60" font-size="4.0" fill="#333" text-anchor="end">0</text>
<path d="M205.20 214.65H205.9" stroke="#777" stroke-width="0.4"/>
<path d="M204.70 210.10H205.9" stroke="#777" stroke-width="0.5"/>
<text x="204.30" y="211.50" font-size="4.0" fill="#333" text-anchor="end">10</text>
<path d="M205.20 205.55H205.9" stroke="#777" stroke-width="0.4"/>
<path d="M204.70 201.00H205.9" stroke="#777" stroke-width="0.5"/>
<text x="204.30" y="202.40" font-size="4.0" fill="#333" text-anchor="end">20</text>
<path d="M205.20 196.45H205.9" stroke="#777" stroke-width="0.4"/>
<path d="M204.70 191.90H205.9" stroke="#777" stroke-width="0.5"/>
<text x="204.30" y="193.30" font-size="4.0" fill="#333" text-anchor="end">30</text>
<path d="M205.20 187.35H205.9" stroke="#777" stroke-width="0.4"/>
<path d="M204.70 182.80H205.9" stroke="#777" stroke-width="0.5"/>
<text x="204.30" y="184.20" font-size="4.0" fill="#333" text-anchor="end">40</text>
<path d="M205.20 178.25H205.9" stroke="#777" stroke-width="0.4"/>
<path d="M204.70 173.70H205.9" stroke="#777" stroke-width="0.5"/>
<text x="204.30" y="175.10" font-size="4.0" fill="#333" text-anchor="end">50</text>
<path d="M205.20 169.15H205.9" stroke="#777" stroke-width="0.4"/>
<path d="M204.70 164.60H205.9" stroke="#777" stroke-width="0.5"/>
<text x="204.30" y="166.00" font-size="4.0" fill="#333" text-anchor="end">60</text>
<path d="M205.20 160.05H205.9" stroke="#777" stroke-width="0.4"/>
<path d="M204.70 155.50H205.9" stroke="#777" stroke-width="0.5"/>
<text x="204.30" y="156.90" font-size="4.0" fill="#333" text-anchor="end">70</text>
<path d="M205.20 150.95H205.9" stroke="#777" stroke-width="0.4"/>
<path d="M204.70 146.40H205.9" stroke="#777" stroke-width="0.5"/>
<text x="204.30" y="147.80" font-size="4.0" fill="#333" text-anchor="end">80</text>
<path d="M205.90 219.2V220.39999999999998" stroke="#777" stroke-width="0.5"/>
<text x="205.90" y="224.00" font-size="4.0" fill="#333" text-anchor="middle">-60</text>
<path d="M219.99 219.2V220.39999999999998" stroke="#777" stroke-width="0.5"/>
<text x="219.99" y="224.00" font-size="4.0" fill="#333" text-anchor="middle">-40</text>
<path d="M234.07 219.2V220.39999999999998" stroke="#777" stroke-width="0.5"/>
<text x="234.07" y="224.00" font-size="4.0" fill="#333" text-anchor="middle">-20</text>
<path d="M248.16 219.2V220.39999999999998" stroke="#777" stroke-width="0.5"/>
<text x="248.16" y="224.00" font-size="4.0" fill="#333" text-anchor="middle">0</text>
<path d="M262.24 219.2V220.39999999999998" stroke="#777" stroke-width="0.5"/>
<text x="262.24" y="224.00" font-size="4.0" fill="#333" text-anchor="middle">20</text>
<path d="M276.33 219.2V220.39999999999998" stroke="#777" stroke-width="0.5"/>
<text x="276.33" y="224.00" font-size="4.0" fill="#333" text-anchor="middle">40</text>
<path d="M290.41 219.2V220.39999999999998" stroke="#777" stroke-width="0.5"/>
<text x="290.41" y="224.00" font-size="4.0" fill="#333" text-anchor="middle">60</text>
<path d="M304.50 219.2V220.39999999999998" stroke="#777" stroke-width="0.5"/>
<text x="304.50" y="224.00" font-size="4.0" fill="#333" text-anchor="middle">80</text>
<rect x="279.90" y="147.20" width="23.4" height="9.5" fill="#fff" stroke="#E0E0E0" stroke-width="0.4"/>
<rect x="280.20" y="147.80" width="8.3" height="3.7" fill="#FDCA8F"/>
<rect x="280.20" y="152.40" width="8.3" height="3.7" fill="#8FD39A"/>
<text x="289.80" y="151.00" font-size="4.0" fill="#222" textLength="13" lengthAdjust="spacingAndGlyphs">Training</text>
<text x="289.80" y="155.60" font-size="4.0" fill="#222" textLength="12" lengthAdjust="spacingAndGlyphs">Testing</text>
<clipPath id="clipb"><rect x="67.3" y="11.0" width="243.0" height="216.4"/></clipPath>
<g clip-path="url(#clipb)" fill="none" stroke-width="1.6" stroke-dasharray="5.2 3.6 1.3 4.9">
<line x1="67.3" y1="227.4" x2="310.3" y2="11.0" stroke="#FF0000"/>
<line x1="67.3" y1="227.4" x2="269.8" y2="11.0" stroke="#7030A0"/>
<line x1="67.3" y1="227.4" x2="310.3" y2="54.28" stroke="#7030A0"/>
</g>
<rect x="67.6" y="11.2" width="242.7" height="216.2" fill="none" stroke="#2a2a2a" stroke-width="1.3"/>
<g transform="translate(222.5 54.099999999999994) rotate(-47)"><text x="0.00" y="0.00" font-size="12.0" font-family="Liberation Serif" font-weight="bold" fill="#000" textLength="44" lengthAdjust="spacingAndGlyphs" stroke="#000" stroke-width="0.25"><tspan font-style="italic">y</tspan> = 1.2<tspan font-style="italic">x</tspan></text></g>
<g transform="translate(266.40000000000003 100.3) rotate(-34.5)"><text x="0.00" y="0.00" font-size="11.8" font-family="Liberation Serif" font-weight="bold" fill="#000" textLength="44.5" lengthAdjust="spacingAndGlyphs" stroke="#000" stroke-width="0.25"><tspan font-style="italic">y</tspan> = 0.8<tspan font-style="italic">x</tspan></text></g>
<path d="M161.0 195.6L166.0 200.6M161.0 200.6L166.0 195.6" stroke="#F4B183" stroke-width="1.2"/>
<text x="168.60" y="200.90" font-size="9.2" fill="#333" textLength="27.6" lengthAdjust="spacingAndGlyphs" stroke="#333" stroke-width="0.2">Training</text>
<path d="M161.0 211.7L166.0 216.7M161.0 216.7L166.0 211.7" stroke="#548235" stroke-width="1.2"/>
<text x="168.60" y="217.00" font-size="9.2" fill="#333" textLength="24.5" lengthAdjust="spacingAndGlyphs" stroke="#333" stroke-width="0.2">Testing</text>
</g>
<g transform="translate(0 301)">
<text x="59.70" y="230.30" font-size="8.4" fill="#404040" text-anchor="end" textLength="15.3" lengthAdjust="spacingAndGlyphs" stroke="#404040" stroke-width="0.12">0.00</text>
<text x="59.70" y="194.23" font-size="8.4" fill="#404040" text-anchor="end" textLength="19.2" lengthAdjust="spacingAndGlyphs" stroke="#404040" stroke-width="0.12">50.00</text>
<text x="59.70" y="158.17" font-size="8.4" fill="#404040" text-anchor="end" textLength="24.0" lengthAdjust="spacingAndGlyphs" stroke="#404040" stroke-width="0.12">100.00</text>
<text x="59.70" y="122.10" font-size="8.4" fill="#404040" text-anchor="end" textLength="24.0" lengthAdjust="spacingAndGlyphs" stroke="#404040" stroke-width="0.12">150.00</text>
<text x="59.70" y="86.03" font-size="8.4" fill="#404040" text-anchor="end" textLength="24.0" lengthAdjust="spacingAndGlyphs" stroke="#404040" stroke-width="0.12">200.00</text>
<text x="59.70" y="49.97" font-size="8.4" fill="#404040" text-anchor="end" textLength="24.0" lengthAdjust="spacingAndGlyphs" stroke="#404040" stroke-width="0.12">250.00</text>
<text x="59.70" y="13.90" font-size="8.4" fill="#404040" text-anchor="end" textLength="24.0" lengthAdjust="spacingAndGlyphs" stroke="#404040" stroke-width="0.12">300.00</text>
<text x="67.30" y="241.90" font-size="8.4" fill="#404040" text-anchor="middle" textLength="15.2" lengthAdjust="spacingAndGlyphs" stroke="#404040" stroke-width="0.12">0.00</text>
<text x="107.80" y="241.90" font-size="8.4" fill="#404040" text-anchor="middle" textLength="19.4" lengthAdjust="spacingAndGlyphs" stroke="#404040" stroke-width="0.12">50.00</text>
<text x="148.30" y="241.90" font-size="8.4" fill="#404040" text-anchor="middle" textLength="24.4" lengthAdjust="spacingAndGlyphs" stroke="#404040" stroke-width="0.12">100.00</text>
<text x="188.80" y="241.90" font-size="8.4" fill="#404040" text-anchor="middle" textLength="24.4" lengthAdjust="spacingAndGlyphs" stroke="#404040" stroke-width="0.12">150.00</text>
<text x="229.30" y="241.90" font-size="8.4" fill="#404040" text-anchor="middle" textLength="24.4" lengthAdjust="spacingAndGlyphs" stroke="#404040" stroke-width="0.12">200.00</text>
<text x="269.80" y="241.90" font-size="8.4" fill="#404040" text-anchor="middle" textLength="24.4" lengthAdjust="spacingAndGlyphs" stroke="#404040" stroke-width="0.12">250.00</text>
<text x="310.30" y="241.90" font-size="8.4" fill="#404040" text-anchor="middle" textLength="24.4" lengthAdjust="spacingAndGlyphs" stroke="#404040" stroke-width="0.12">300.00</text>
<text x="189.00" y="256.00" font-size="9.4" fill="#333" text-anchor="middle" textLength="81" lengthAdjust="spacingAndGlyphs" stroke="#333" stroke-width="0.2">Actual PPV (mm/sec)</text>
<g transform="translate(32.3 119.1) rotate(-90)"><text x="0.00" y="0.00" font-size="9.4" fill="#333" text-anchor="middle" textLength="92.6" lengthAdjust="spacingAndGlyphs" stroke="#333" stroke-width="0.2">Predicted PPV (mm/sec)</text></g>
<text x="171.50" y="282.00" font-size="13.6" font-family="Liberation Serif" font-weight="bold" fill="#000" text-anchor="middle">(c)</text>
<text x="72.30" y="23.00" font-size="9.9" font-weight="bold" fill="#262626" textLength="65.1" lengthAdjust="spacingAndGlyphs" stroke="#262626" stroke-width="0.25">Training Phase:</text>
<text x="72.30" y="35.60" font-size="9.9" fill="#262626" textLength="104" lengthAdjust="spacingAndGlyphs" stroke="#262626" stroke-width="0.25">RMSE = 20.4599mm/sec</text>
<text x="72.30" y="48.20" font-size="9.9" fill="#262626" textLength="45" lengthAdjust="spacingAndGlyphs" stroke="#262626" stroke-width="0.25">R = 0.9094</text>
<text x="72.30" y="60.80" font-size="9.9" fill="#262626" textLength="50.8" lengthAdjust="spacingAndGlyphs" stroke="#262626" stroke-width="0.25">VAF = 82.70</text>
<text x="72.30" y="73.40" font-size="9.9" fill="#262626" textLength="35.9" lengthAdjust="spacingAndGlyphs" stroke="#262626" stroke-width="0.25">PI = 1.57</text>
<text x="72.30" y="86.00" font-size="9.9" font-weight="bold" fill="#262626" textLength="61.3" lengthAdjust="spacingAndGlyphs" stroke="#262626" stroke-width="0.25">Testing Phase:</text>
<text x="72.30" y="98.60" font-size="9.9" fill="#262626" textLength="104" lengthAdjust="spacingAndGlyphs" stroke="#262626" stroke-width="0.25">RMSE = 25.2460mm/sec</text>
<text x="72.30" y="111.20" font-size="9.9" fill="#262626" textLength="45" lengthAdjust="spacingAndGlyphs" stroke="#262626" stroke-width="0.25">R = 0.8799</text>
<text x="72.30" y="123.80" font-size="9.9" fill="#262626" textLength="50.8" lengthAdjust="spacingAndGlyphs" stroke="#262626" stroke-width="0.25">VAF = 77.35</text>
<text x="72.30" y="136.40" font-size="9.9" fill="#262626" textLength="35.9" lengthAdjust="spacingAndGlyphs" stroke="#262626" stroke-width="0.25">PI = 1.44</text>
<path d="M85.4 195.5l6.6 6.6m0 -6.6l-6.6 6.6M91.7 188.9l6.6 6.6m0 -6.6l-6.6 6.6M97.5 190.5l6.6 6.6m0 -6.6l-6.6 6.6M93.4 186.6l6.6 6.6m0 -6.6l-6.6 6.6M95.7 207.7l6.6 6.6m0 -6.6l-6.6 6.6M79.0 204.4l6.6 6.6m0 -6.6l-6.6 6.6M106.2 191.0l6.6 6.6m0 -6.6l-6.6 6.6M94.7 205.4l6.6 6.6m0 -6.6l-6.6 6.6M116.6 199.1l6.6 6.6m0 -6.6l-6.6 6.6M83.4 205.0l6.6 6.6m0 -6.6l-6.6 6.6M95.4 192.8l6.6 6.6m0 -6.6l-6.6 6.6M99.7 186.4l6.6 6.6m0 -6.6l-6.6 6.6M95.8 205.7l6.6 6.6m0 -6.6l-6.6 6.6M73.5 202.1l6.6 6.6m0 -6.6l-6.6 6.6M113.3 184.3l6.6 6.6m0 -6.6l-6.6 6.6M78.5 197.6l6.6 6.6m0 -6.6l-6.6 6.6M111.2 181.6l6.6 6.6m0 -6.6l-6.6 6.6M105.0 188.7l6.6 6.6m0 -6.6l-6.6 6.6M101.1 199.7l6.6 6.6m0 -6.6l-6.6 6.6M92.6 200.4l6.6 6.6m0 -6.6l-6.6 6.6M105.7 191.4l6.6 6.6m0 -6.6l-6.6 6.6M103.4 186.5l6.6 6.6m0 -6.6l-6.6 6.6M92.5 203.8l6.6 6.6m0 -6.6l-6.6 6.6M99.5 188.9l6.6 6.6m0 -6.6l-6.6 6.6M77.0 206.5l6.6 6.6m0 -6.6l-6.6 6.6M100.6 189.7l6.6 6.6m0 -6.6l-6.6 6.6M82.5 195.0l6.6 6.6m0 -6.6l-6.6 6.6M110.5 198.7l6.6 6.6m0 -6.6l-6.6 6.6M91.3 193.0l6.6 6.6m0 -6.6l-6.6 6.6M75.4 199.1l6.6 6.6m0 -6.6l-6.6 6.6M96.3 191.1l6.6 6.6m0 -6.6l-6.6 6.6M91.8 192.6l6.6 6.6m0 -6.6l-6.6 6.6M74.5 201.6l6.6 6.6m0 -6.6l-6.6 6.6M96.2 205.3l6.6 6.6m0 -6.6l-6.6 6.6M84.5 207.2l6.6 6.6m0 -6.6l-6.6 6.6M112.6 197.5l6.6 6.6m0 -6.6l-6.6 6.6M92.7 189.4l6.6 6.6m0 -6.6l-6.6 6.6M80.3 195.0l6.6 6.6m0 -6.6l-6.6 6.6M79.5 194.4l6.6 6.6m0 -6.6l-6.6 6.6M93.3 200.1l6.6 6.6m0 -6.6l-6.6 6.6M73.8 203.1l6.6 6.6m0 -6.6l-6.6 6.6M109.3 199.1l6.6 6.6m0 -6.6l-6.6 6.6M87.9 190.9l6.6 6.6m0 -6.6l-6.6 6.6M83.4 193.0l6.6 6.6m0 -6.6l-6.6 6.6M99.6 202.1l6.6 6.6m0 -6.6l-6.6 6.6M87.9 207.6l6.6 6.6m0 -6.6l-6.6 6.6M103.9 197.8l6.6 6.6m0 -6.6l-6.6 6.6M97.3 206.1l6.6 6.6m0 -6.6l-6.6 6.6M93.2 198.5l6.6 6.6m0 -6.6l-6.6 6.6M100.1 204.0l6.6 6.6m0 -6.6l-6.6 6.6M95.7 191.7l6.6 6.6m0 -6.6l-6.6 6.6M93.8 206.5l6.6 6.6m0 -6.6l-6.6 6.6M102.9 202.0l6.6 6.6m0 -6.6l-6.6 6.6M74.8 202.0l6.6 6.6m0 -6.6l-6.6 6.6M79.9 199.8l6.6 6.6m0 -6.6l-6.6 6.6M79.5 201.6l6.6 6.6m0 -6.6l-6.6 6.6M100.9 190.2l6.6 6.6m0 -6.6l-6.6 6.6M98.6 191.2l6.6 6.6m0 -6.6l-6.6 6.6M119.0 179.0l6.6 6.6m0 -6.6l-6.6 6.6M94.5 202.7l6.6 6.6m0 -6.6l-6.6 6.6M73.8 200.1l6.6 6.6m0 -6.6l-6.6 6.6M108.0 201.0l6.6 6.6m0 -6.6l-6.6 6.6M89.2 191.1l6.6 6.6m0 -6.6l-6.6 6.6M85.4 196.8l6.6 6.6m0 -6.6l-6.6 6.6M97.2 205.1l6.6 6.6m0 -6.6l-6.6 6.6M110.3 197.0l6.6 6.6m0 -6.6l-6.6 6.6M110.4 196.2l6.6 6.6m0 -6.6l-6.6 6.6M89.0 188.0l6.6 6.6m0 -6.6l-6.6 6.6M84.6 204.4l6.6 6.6m0 -6.6l-6.6 6.6M104.3 188.3l6.6 6.6m0 -6.6l-6.6 6.6M84.6 196.0l6.6 6.6m0 -6.6l-6.6 6.6M88.4 189.0l6.6 6.6m0 -6.6l-6.6 6.6M118.5 187.7l6.6 6.6m0 -6.6l-6.6 6.6M108.5 190.2l6.6 6.6m0 -6.6l-6.6 6.6M81.8 202.5l6.6 6.6m0 -6.6l-6.6 6.6M84.2 196.5l6.6 6.6m0 -6.6l-6.6 6.6M85.8 205.4l6.6 6.6m0 -6.6l-6.6 6.6M100.8 187.1l6.6 6.6m0 -6.6l-6.6 6.6M77.0 203.1l6.6 6.6m0 -6.6l-6.6 6.6M109.4 180.8l6.6 6.6m0 -6.6l-6.6 6.6M89.7 191.4l6.6 6.6m0 -6.6l-6.6 6.6M85.9 202.7l6.6 6.6m0 -6.6l-6.6 6.6M92.9 189.5l6.6 6.6m0 -6.6l-6.6 6.6M72.2 204.6l6.6 6.6m0 -6.6l-6.6 6.6M94.3 194.0l6.6 6.6m0 -6.6l-6.6 6.6M79.9 205.2l6.6 6.6m0 -6.6l-6.6 6.6M115.8 198.9l6.6 6.6m0 -6.6l-6.6 6.6M116.5 181.8l6.6 6.6m0 -6.6l-6.6 6.6M111.4 196.1l6.6 6.6m0 -6.6l-6.6 6.6M91.7 190.0l6.6 6.6m0 -6.6l-6.6 6.6M110.4 201.9l6.6 6.6m0 -6.6l-6.6 6.6M81.4 198.5l6.6 6.6m0 -6.6l-6.6 6.6M79.6 194.7l6.6 6.6m0 -6.6l-6.6 6.6M101.6 199.7l6.6 6.6m0 -6.6l-6.6 6.6M102.1 193.6l6.6 6.6m0 -6.6l-6.6 6.6M91.6 178.0l6.6 6.6m0 -6.6l-6.6 6.6M108.5 180.5l6.6 6.6m0 -6.6l-6.6 6.6M81.3 186.8l6.6 6.6m0 -6.6l-6.6 6.6M91.5 191.6l6.6 6.6m0 -6.6l-6.6 6.6M119.2 176.0l6.6 6.6m0 -6.6l-6.6 6.6M87.6 180.7l6.6 6.6m0 -6.6l-6.6 6.6M104.8 183.9l6.6 6.6m0 -6.6l-6.6 6.6M83.6 184.4l6.6 6.6m0 -6.6l-6.6 6.6M120.5 175.9l6.6 6.6m0 -6.6l-6.6 6.6M98.9 185.7l6.6 6.6m0 -6.6l-6.6 6.6M90.7 190.7l6.6 6.6m0 -6.6l-6.6 6.6M109.5 170.7l6.6 6.6m0 -6.6l-6.6 6.6M98.4 172.2l6.6 6.6m0 -6.6l-6.6 6.6M107.6 188.8l6.6 6.6m0 -6.6l-6.6 6.6M122.3 178.8l6.6 6.6m0 -6.6l-6.6 6.6M90.4 186.6l6.6 6.6m0 -6.6l-6.6 6.6M84.8 185.7l6.6 6.6m0 -6.6l-6.6 6.6M116.1 187.9l6.6 6.6m0 -6.6l-6.6 6.6M265.0 62.5l6.6 6.6m0 -6.6l-6.6 6.6M212.5 83.6l6.6 6.6m0 -6.6l-6.6 6.6M216.0 82.4l6.6 6.6m0 -6.6l-6.6 6.6M219.5 84.7l6.6 6.6m0 -6.6l-6.6 6.6M225.3 98.3l6.6 6.6m0 -6.6l-6.6 6.6M205.5 99.9l6.6 6.6m0 -6.6l-6.6 6.6M211.3 102.2l6.6 6.6m0 -6.6l-6.6 6.6M218.3 103.4l6.6 6.6m0 -6.6l-6.6 6.6M191.4 99.2l6.6 6.6m0 -6.6l-6.6 6.6M180.9 97.6l6.6 6.6m0 -6.6l-6.6 6.6M176.3 106.9l6.6 6.6m0 -6.6l-6.6 6.6M179.8 110.4l6.6 6.6m0 -6.6l-6.6 6.6M183.3 112.8l6.6 6.6m0 -6.6l-6.6 6.6M185.6 111.6l6.6 6.6m0 -6.6l-6.6 6.6M240.5 111.6l6.6 6.6m0 -6.6l-6.6 6.6M206.6 122.1l6.6 6.6m0 -6.6l-6.6 6.6M145.9 123.3l6.6 6.6m0 -6.6l-6.6 6.6M150.6 132.6l6.6 6.6m0 -6.6l-6.6 6.6M131.9 145.6l6.6 6.6m0 -6.6l-6.6 6.6M134.2 148.5l6.6 6.6m0 -6.6l-6.6 6.6M119.0 152.1l6.6 6.6m0 -6.6l-6.6 6.6M121.4 155.6l6.6 6.6m0 -6.6l-6.6 6.6M120.2 157.9l6.6 6.6m0 -6.6l-6.6 6.6M134.2 153.8l6.6 6.6m0 -6.6l-6.6 6.6M141.2 153.2l6.6 6.6m0 -6.6l-6.6 6.6M143.6 157.3l6.6 6.6m0 -6.6l-6.6 6.6M150.0 143.9l6.6 6.6m0 -6.6l-6.6 6.6M154.1 147.4l6.6 6.6m0 -6.6l-6.6 6.6M166.9 152.1l6.6 6.6m0 -6.6l-6.6 6.6M196.6 148.8l6.6 6.6m0 -6.6l-6.6 6.6M171.0 172.5l6.6 6.6m0 -6.6l-6.6 6.6M158.2 181.2l6.6 6.6m0 -6.6l-6.6 6.6M160.5 183.6l6.6 6.6m0 -6.6l-6.6 6.6M148.2 188.8l6.6 6.6m0 -6.6l-6.6 6.6M123.7 169.6l6.6 6.6m0 -6.6l-6.6 6.6M128.4 169.6l6.6 6.6m0 -6.6l-6.6 6.6M137.7 169.0l6.6 6.6m0 -6.6l-6.6 6.6M119.0 176.6l6.6 6.6m0 -6.6l-6.6 6.6M122.5 175.4l6.6 6.6m0 -6.6l-6.6 6.6M123.7 178.9l6.6 6.6m0 -6.6l-6.6 6.6M117.9 184.8l6.6 6.6m0 -6.6l-6.6 6.6M119.0 187.1l6.6 6.6m0 -6.6l-6.6 6.6M119.0 198.8l6.6 6.6m0 -6.6l-6.6 6.6M128.4 197.6l6.6 6.6m0 -6.6l-6.6 6.6M129.5 200.5l6.6 6.6m0 -6.6l-6.6 6.6M170.4 137.5l6.6 6.6m0 -6.6l-6.6 6.6M112.7 145.5l6.6 6.6m0 -6.6l-6.6 6.6M115.1 182.2l6.6 6.6m0 -6.6l-6.6 6.6M109.2 166.5l6.6 6.6m0 -6.6l-6.6 6.6M101.1 178.7l6.6 6.6m0 -6.6l-6.6 6.6M93.5 174.7l6.6 6.6m0 -6.6l-6.6 6.6M106.9 204.4l6.6 6.6m0 -6.6l-6.6 6.6" stroke="#F4B183" stroke-width="1.0" fill="none"/>
<path d="M131.9 138.9l6.6 6.6m0 -6.6l-6.6 6.6M140.1 136.1l6.6 6.6m0 -6.6l-6.6 6.6M141.2 137.5l6.6 6.6m0 -6.6l-6.6 6.6M163.4 126.8l6.6 6.6m0 -6.6l-6.6 6.6M169.2 125.6l6.6 6.6m0 -6.6l-6.6 6.6M177.4 125.6l6.6 6.6m0 -6.6l-6.6 6.6M169.2 135.7l6.6 6.6m0 -6.6l-6.6 6.6M180.3 140.9l6.6 6.6m0 -6.6l-6.6 6.6M196.1 130.3l6.6 6.6m0 -6.6l-6.6 6.6M221.8 136.1l6.6 6.6m0 -6.6l-6.6 6.6M126.6 198.8l6.6 6.6m0 -6.6l-6.6 6.6M77.7 197.4l6.6 6.6m0 -6.6l-6.6 6.6M84.1 198.0l6.6 6.6m0 -6.6l-6.6 6.6M91.7 196.3l6.6 6.6m0 -6.6l-6.6 6.6M97.6 196.8l6.6 6.6m0 -6.6l-6.6 6.6M106.9 196.8l6.6 6.6m0 -6.6l-6.6 6.6" stroke="#548235" stroke-width="1.0" fill="none"/>
<rect x="202.0" y="145.7" width="106.09999999999997" height="80.9" fill="#fff"/>
<rect x="208.3" y="147.2" width="98.59999999999997" height="73.20000000000002" fill="none" stroke="#C8C8C8" stroke-width="0.9"/>
<rect x="208.30" y="218.66" width="3.79" height="1.74" fill="#FDCA8F" stroke="#D4A26A" stroke-width="0.35"/>
<text x="210.20" y="221.13" font-size="4.4" fill="#222" text-anchor="middle" stroke="#222" stroke-width="0.1">1</text>
<text x="213.99" y="222.00" font-size="4.4" fill="#222" text-anchor="middle" stroke="#222" stroke-width="0.1">0</text>
<rect x="215.88" y="211.72" width="3.79" height="8.68" fill="#FDCA8F" stroke="#D4A26A" stroke-width="0.35"/>
<text x="217.78" y="217.66" font-size="4.4" fill="#222" text-anchor="middle" stroke="#222" stroke-width="0.1">5</text>
<rect x="219.68" y="218.66" width="3.79" height="1.74" fill="#8FD39A" stroke="#5DA86A" stroke-width="0.35"/>
<text x="221.57" y="221.13" font-size="4.4" fill="#222" text-anchor="middle" stroke="#222" stroke-width="0.1">1</text>
<rect x="223.47" y="201.31" width="3.79" height="19.09" fill="#FDCA8F" stroke="#D4A26A" stroke-width="0.35"/>
<text x="225.37" y="212.46" font-size="4.4" fill="#222" text-anchor="middle" stroke="#222" stroke-width="0.1">11</text>
<rect x="227.26" y="216.93" width="3.79" height="3.47" fill="#8FD39A" stroke="#5DA86A" stroke-width="0.35"/>
<text x="229.16" y="220.26" font-size="4.4" fill="#222" text-anchor="middle" stroke="#222" stroke-width="0.1">2</text>
<rect x="231.05" y="156.20" width="3.79" height="64.20" fill="#FDCA8F" stroke="#D4A26A" stroke-width="0.35"/>
<text x="232.95" y="189.90" font-size="4.4" fill="#222" text-anchor="middle" stroke="#222" stroke-width="0.1">37</text>
<rect x="234.85" y="213.46" width="3.79" height="6.94" fill="#8FD39A" stroke="#5DA86A" stroke-width="0.35"/>
<text x="236.74" y="218.53" font-size="4.4" fill="#222" text-anchor="middle" stroke="#222" stroke-width="0.1">4</text>
<rect x="238.64" y="154.47" width="3.79" height="65.93" fill="#FDCA8F" stroke="#D4A26A" stroke-width="0.35"/>
<text x="240.53" y="189.03" font-size="4.4" fill="#222" text-anchor="middle" stroke="#222" stroke-width="0.1">38</text>
<rect x="242.43" y="215.19" width="3.79" height="5.21" fill="#8FD39A" stroke="#5DA86A" stroke-width="0.35"/>
<text x="244.33" y="219.40" font-size="4.4" fill="#222" text-anchor="middle" stroke="#222" stroke-width="0.1">3</text>
<rect x="246.22" y="157.94" width="3.79" height="62.46" fill="#FDCA8F" stroke="#D4A26A" stroke-width="0.35"/>
<text x="248.12" y="190.77" font-size="4.4" fill="#222" text-anchor="middle" stroke="#222" stroke-width="0.1">36</text>
<rect x="250.02" y="211.72" width="3.79" height="8.68" fill="#8FD39A" stroke="#5DA86A" stroke-width="0.35"/>
<text x="251.91" y="217.66" font-size="4.4" fill="#222" text-anchor="middle" stroke="#222" stroke-width="0.1">5</text>
<rect x="253.81" y="201.31" width="3.79" height="19.09" fill="#FDCA8F" stroke="#D4A26A" stroke-width="0.35"/>
<text x="255.70" y="212.46" font-size="4.4" fill="#222" text-anchor="middle" stroke="#222" stroke-width="0.1">11</text>
<rect x="257.60" y="218.66" width="3.79" height="1.74" fill="#8FD39A" stroke="#5DA86A" stroke-width="0.35"/>
<text x="259.50" y="221.13" font-size="4.4" fill="#222" text-anchor="middle" stroke="#222" stroke-width="0.1">1</text>
<rect x="261.39" y="204.78" width="3.79" height="15.62" fill="#FDCA8F" stroke="#D4A26A" stroke-width="0.35"/>
<text x="263.29" y="214.19" font-size="4.4" fill="#222" text-anchor="middle" stroke="#222" stroke-width="0.1">9</text>
<rect x="265.18" y="218.66" width="3.79" height="1.74" fill="#8FD39A" stroke="#5DA86A" stroke-width="0.35"/>
<text x="267.08" y="221.13" font-size="4.4" fill="#222" text-anchor="middle" stroke="#222" stroke-width="0.1">1</text>
<rect x="268.98" y="215.19" width="3.79" height="5.21" fill="#FDCA8F" stroke="#D4A26A" stroke-width="0.35"/>
<text x="270.87" y="219.40" font-size="4.4" fill="#222" text-anchor="middle" stroke="#222" stroke-width="0.1">3</text>
<rect x="272.77" y="218.66" width="3.79" height="1.74" fill="#8FD39A" stroke="#5DA86A" stroke-width="0.35"/>
<text x="274.67" y="221.13" font-size="4.4" fill="#222" text-anchor="middle" stroke="#222" stroke-width="0.1">1</text>
<rect x="276.56" y="216.93" width="3.79" height="3.47" fill="#FDCA8F" stroke="#D4A26A" stroke-width="0.35"/>
<text x="278.46" y="220.26" font-size="4.4" fill="#222" text-anchor="middle" stroke="#222" stroke-width="0.1">2</text>
<rect x="280.35" y="218.66" width="3.79" height="1.74" fill="#8FD39A" stroke="#5DA86A" stroke-width="0.35"/>
<text x="282.25" y="221.13" font-size="4.4" fill="#222" text-anchor="middle" stroke="#222" stroke-width="0.1">1</text>
<rect x="284.15" y="215.19" width="3.79" height="5.21" fill="#FDCA8F" stroke="#D4A26A" stroke-width="0.35"/>
<text x="286.04" y="219.40" font-size="4.4" fill="#222" text-anchor="middle" stroke="#222" stroke-width="0.1">3</text>
<text x="289.83" y="222.00" font-size="4.4" fill="#222" text-anchor="middle" stroke="#222" stroke-width="0.1">0</text>
<rect x="291.73" y="215.19" width="3.79" height="5.21" fill="#FDCA8F" stroke="#D4A26A" stroke-width="0.35"/>
<text x="293.63" y="219.40" font-size="4.4" fill="#222" text-anchor="middle" stroke="#222" stroke-width="0.1">3</text>
<text x="297.42" y="222.00" font-size="4.4" fill="#222" text-anchor="middle" stroke="#222" stroke-width="0.1">0</text>
<rect x="299.32" y="218.66" width="3.79" height="1.74" fill="#FDCA8F" stroke="#D4A26A" stroke-width="0.35"/>
<text x="301.21" y="221.13" font-size="4.4" fill="#222" text-anchor="middle" stroke="#222" stroke-width="0.1">1</text>
<rect x="303.11" y="218.66" width="3.79" height="1.74" fill="#8FD39A" stroke="#5DA86A" stroke-width="0.35"/>
<text x="305.00" y="221.13" font-size="4.4" fill="#222" text-anchor="middle" stroke="#222" stroke-width="0.1">1</text>
<path d="M208.3 147.2V220.4H306.9" fill="none" stroke="#777" stroke-width="0.6"/>
<path d="M207.10 220.40H208.3" stroke="#777" stroke-width="0.5"/>
<text x="206.70" y="221.80" font-size="4.0" fill="#333" text-anchor="end">0</text>
<path d="M207.60 216.06H208.3" stroke="#777" stroke-width="0.4"/>
<path d="M207.10 211.72H208.3" stroke="#777" stroke-width="0.5"/>
<text x="206.70" y="213.12" font-size="4.0" fill="#333" text-anchor="end">5</text>
<path d="M207.60 207.39H208.3" stroke="#777" stroke-width="0.4"/>
<path d="M207.10 203.05H208.3" stroke="#777" stroke-width="0.5"/>
<text x="206.70" y="204.45" font-size="4.0" fill="#333" text-anchor="end">10</text>
<path d="M207.60 198.71H208.3" stroke="#777" stroke-width="0.4"/>
<path d="M207.10 194.38H208.3" stroke="#777" stroke-width="0.5"/>
<text x="206.70" y="195.78" font-size="4.0" fill="#333" text-anchor="end">15</text>
<path d="M207.60 190.04H208.3" stroke="#777" stroke-width="0.4"/>
<path d="M207.10 185.70H208.3" stroke="#777" stroke-width="0.5"/>
<text x="206.70" y="187.10" font-size="4.0" fill="#333" text-anchor="end">20</text>
<path d="M207.60 181.36H208.3" stroke="#777" stroke-width="0.4"/>
<path d="M207.10 177.03H208.3" stroke="#777" stroke-width="0.5"/>
<text x="206.70" y="178.43" font-size="4.0" fill="#333" text-anchor="end">25</text>
<path d="M207.60 172.69H208.3" stroke="#777" stroke-width="0.4"/>
<path d="M207.10 168.35H208.3" stroke="#777" stroke-width="0.5"/>
<text x="206.70" y="169.75" font-size="4.0" fill="#333" text-anchor="end">30</text>
<path d="M207.60 164.01H208.3" stroke="#777" stroke-width="0.4"/>
<path d="M207.10 159.68H208.3" stroke="#777" stroke-width="0.5"/>
<text x="206.70" y="161.08" font-size="4.0" fill="#333" text-anchor="end">35</text>
<path d="M207.60 155.34H208.3" stroke="#777" stroke-width="0.4"/>
<path d="M207.10 151.00H208.3" stroke="#777" stroke-width="0.5"/>
<text x="206.70" y="152.40" font-size="4.0" fill="#333" text-anchor="end">40</text>
<path d="M215.88 220.4V221.6" stroke="#777" stroke-width="0.5"/>
<text x="215.88" y="225.20" font-size="4.0" fill="#333" text-anchor="middle">-40</text>
<path d="M231.05 220.4V221.6" stroke="#777" stroke-width="0.5"/>
<text x="231.05" y="225.20" font-size="4.0" fill="#333" text-anchor="middle">-20</text>
<path d="M246.22 220.4V221.6" stroke="#777" stroke-width="0.5"/>
<text x="246.22" y="225.20" font-size="4.0" fill="#333" text-anchor="middle">0</text>
<path d="M261.39 220.4V221.6" stroke="#777" stroke-width="0.5"/>
<text x="261.39" y="225.20" font-size="4.0" fill="#333" text-anchor="middle">20</text>
<path d="M276.56 220.4V221.6" stroke="#777" stroke-width="0.5"/>
<text x="276.56" y="225.20" font-size="4.0" fill="#333" text-anchor="middle">40</text>
<path d="M291.73 220.4V221.6" stroke="#777" stroke-width="0.5"/>
<text x="291.73" y="225.20" font-size="4.0" fill="#333" text-anchor="middle">60</text>
<path d="M306.90 220.4V221.6" stroke="#777" stroke-width="0.5"/>
<text x="306.90" y="225.20" font-size="4.0" fill="#333" text-anchor="middle">80</text>
<rect x="282.30" y="148.00" width="23.4" height="9.5" fill="#fff" stroke="#E0E0E0" stroke-width="0.4"/>
<rect x="282.60" y="148.60" width="8.3" height="3.7" fill="#FDCA8F"/>
<rect x="282.60" y="153.20" width="8.3" height="3.7" fill="#8FD39A"/>
<text x="292.20" y="151.80" font-size="4.0" fill="#222" textLength="13" lengthAdjust="spacingAndGlyphs">Training</text>
<text x="292.20" y="156.40" font-size="4.0" fill="#222" textLength="12" lengthAdjust="spacingAndGlyphs">Testing</text>
<clipPath id="clipc"><rect x="67.3" y="11.0" width="243.0" height="216.4"/></clipPath>
<g clip-path="url(#clipc)" fill="none" stroke-width="1.6" stroke-dasharray="5.2 3.6 1.3 4.9">
<line x1="67.3" y1="227.4" x2="310.3" y2="11.0" stroke="#FF0000"/>
<line x1="67.3" y1="227.4" x2="269.8" y2="11.0" stroke="#7030A0"/>
<line x1="67.3" y1="227.4" x2="310.3" y2="54.28" stroke="#7030A0"/>
</g>
<rect x="67.6" y="11.2" width="242.7" height="216.2" fill="none" stroke="#2a2a2a" stroke-width="1.3"/>
<g transform="translate(222.5 54.099999999999994) rotate(-47)"><text x="0.00" y="0.00" font-size="12.0" font-family="Liberation Serif" font-weight="bold" fill="#000" textLength="44" lengthAdjust="spacingAndGlyphs" stroke="#000" stroke-width="0.25"><tspan font-style="italic">y</tspan> = 1.2<tspan font-style="italic">x</tspan></text></g>
<g transform="translate(266.40000000000003 100.3) rotate(-34.5)"><text x="0.00" y="0.00" font-size="11.8" font-family="Liberation Serif" font-weight="bold" fill="#000" textLength="44.5" lengthAdjust="spacingAndGlyphs" stroke="#000" stroke-width="0.25"><tspan font-style="italic">y</tspan> = 0.8<tspan font-style="italic">x</tspan></text></g>
<path d="M160.5 196.4L165.5 201.4M160.5 201.4L165.5 196.4" stroke="#F4B183" stroke-width="1.2"/>
<text x="168.10" y="201.70" font-size="9.2" fill="#333" textLength="27.6" lengthAdjust="spacingAndGlyphs" stroke="#333" stroke-width="0.2">Training</text>
<path d="M160.5 212.8L165.5 217.8M160.5 217.8L165.5 212.8" stroke="#548235" stroke-width="1.2"/>
<text x="168.10" y="218.10" font-size="9.2" fill="#333" textLength="24.5" lengthAdjust="spacingAndGlyphs" stroke="#333" stroke-width="0.2">Testing</text>
</g>
<g transform="translate(342.5 301)">
<text x="59.70" y="230.30" font-size="8.4" fill="#404040" text-anchor="end" textLength="15.3" lengthAdjust="spacingAndGlyphs" stroke="#404040" stroke-width="0.12">0.00</text>
<text x="59.70" y="194.23" font-size="8.4" fill="#404040" text-anchor="end" textLength="19.2" lengthAdjust="spacingAndGlyphs" stroke="#404040" stroke-width="0.12">50.00</text>
<text x="59.70" y="158.17" font-size="8.4" fill="#404040" text-anchor="end" textLength="24.0" lengthAdjust="spacingAndGlyphs" stroke="#404040" stroke-width="0.12">100.00</text>
<text x="59.70" y="122.10" font-size="8.4" fill="#404040" text-anchor="end" textLength="24.0" lengthAdjust="spacingAndGlyphs" stroke="#404040" stroke-width="0.12">150.00</text>
<text x="59.70" y="86.03" font-size="8.4" fill="#404040" text-anchor="end" textLength="24.0" lengthAdjust="spacingAndGlyphs" stroke="#404040" stroke-width="0.12">200.00</text>
<text x="59.70" y="49.97" font-size="8.4" fill="#404040" text-anchor="end" textLength="24.0" lengthAdjust="spacingAndGlyphs" stroke="#404040" stroke-width="0.12">250.00</text>
<text x="59.70" y="13.90" font-size="8.4" fill="#404040" text-anchor="end" textLength="24.0" lengthAdjust="spacingAndGlyphs" stroke="#404040" stroke-width="0.12">300.00</text>
<text x="67.30" y="241.90" font-size="8.4" fill="#404040" text-anchor="middle" textLength="15.2" lengthAdjust="spacingAndGlyphs" stroke="#404040" stroke-width="0.12">0.00</text>
<text x="107.80" y="241.90" font-size="8.4" fill="#404040" text-anchor="middle" textLength="19.4" lengthAdjust="spacingAndGlyphs" stroke="#404040" stroke-width="0.12">50.00</text>
<text x="148.30" y="241.90" font-size="8.4" fill="#404040" text-anchor="middle" textLength="24.4" lengthAdjust="spacingAndGlyphs" stroke="#404040" stroke-width="0.12">100.00</text>
<text x="188.80" y="241.90" font-size="8.4" fill="#404040" text-anchor="middle" textLength="24.4" lengthAdjust="spacingAndGlyphs" stroke="#404040" stroke-width="0.12">150.00</text>
<text x="229.30" y="241.90" font-size="8.4" fill="#404040" text-anchor="middle" textLength="24.4" lengthAdjust="spacingAndGlyphs" stroke="#404040" stroke-width="0.12">200.00</text>
<text x="269.80" y="241.90" font-size="8.4" fill="#404040" text-anchor="middle" textLength="24.4" lengthAdjust="spacingAndGlyphs" stroke="#404040" stroke-width="0.12">250.00</text>
<text x="310.30" y="241.90" font-size="8.4" fill="#404040" text-anchor="middle" textLength="24.4" lengthAdjust="spacingAndGlyphs" stroke="#404040" stroke-width="0.12">300.00</text>
<text x="189.00" y="256.00" font-size="9.4" fill="#333" text-anchor="middle" textLength="81" lengthAdjust="spacingAndGlyphs" stroke="#333" stroke-width="0.2">Actual PPV (mm/sec)</text>
<g transform="translate(32.3 119.1) rotate(-90)"><text x="0.00" y="0.00" font-size="9.4" fill="#333" text-anchor="middle" textLength="92.6" lengthAdjust="spacingAndGlyphs" stroke="#333" stroke-width="0.2">Predicted PPV (mm/sec)</text></g>
<text x="171.50" y="282.00" font-size="13.6" font-family="Liberation Serif" font-weight="bold" fill="#000" text-anchor="middle">(d)</text>
<text x="72.30" y="23.00" font-size="9.9" font-weight="bold" fill="#262626" textLength="65.1" lengthAdjust="spacingAndGlyphs" stroke="#262626" stroke-width="0.25">Training Phase:</text>
<text x="72.30" y="35.60" font-size="9.9" fill="#262626" textLength="104" lengthAdjust="spacingAndGlyphs" stroke="#262626" stroke-width="0.25">RMSE = 22.6713mm/sec</text>
<text x="72.30" y="48.20" font-size="9.9" fill="#262626" textLength="45" lengthAdjust="spacingAndGlyphs" stroke="#262626" stroke-width="0.25">R = 0.8875</text>
<text x="72.30" y="60.80" font-size="9.9" fill="#262626" textLength="50.8" lengthAdjust="spacingAndGlyphs" stroke="#262626" stroke-width="0.25">VAF = 78.76</text>
<text x="72.30" y="73.40" font-size="9.9" fill="#262626" textLength="35.9" lengthAdjust="spacingAndGlyphs" stroke="#262626" stroke-width="0.25">PI = 1.48</text>
<text x="72.30" y="86.00" font-size="9.9" font-weight="bold" fill="#262626" textLength="61.3" lengthAdjust="spacingAndGlyphs" stroke="#262626" stroke-width="0.25">Testing Phase:</text>
<text x="72.30" y="98.60" font-size="9.9" fill="#262626" textLength="104" lengthAdjust="spacingAndGlyphs" stroke="#262626" stroke-width="0.25">RMSE = 25.8582mm/sec</text>
<text x="72.30" y="111.20" font-size="9.9" fill="#262626" textLength="45" lengthAdjust="spacingAndGlyphs" stroke="#262626" stroke-width="0.25">R = 0.8776</text>
<text x="72.30" y="123.80" font-size="9.9" fill="#262626" textLength="50.8" lengthAdjust="spacingAndGlyphs" stroke="#262626" stroke-width="0.25">VAF = 76.87</text>
<text x="72.30" y="136.40" font-size="9.9" fill="#262626" textLength="35.9" lengthAdjust="spacingAndGlyphs" stroke="#262626" stroke-width="0.25">PI = 1.43</text>
<path d="M76.8 202.7l6.6 6.6m0 -6.6l-6.6 6.6M83.2 191.0l6.6 6.6m0 -6.6l-6.6 6.6M104.2 200.7l6.6 6.6m0 -6.6l-6.6 6.6M71.2 202.3l6.6 6.6m0 -6.6l-6.6 6.6M93.3 198.5l6.6 6.6m0 -6.6l-6.6 6.6M98.4 205.7l6.6 6.6m0 -6.6l-6.6 6.6M92.9 191.1l6.6 6.6m0 -6.6l-6.6 6.6M70.8 202.3l6.6 6.6m0 -6.6l-6.6 6.6M115.3 178.7l6.6 6.6m0 -6.6l-6.6 6.6M92.1 202.1l6.6 6.6m0 -6.6l-6.6 6.6M112.0 188.4l6.6 6.6m0 -6.6l-6.6 6.6M98.8 197.9l6.6 6.6m0 -6.6l-6.6 6.6M89.6 189.2l6.6 6.6m0 -6.6l-6.6 6.6M111.0 191.9l6.6 6.6m0 -6.6l-6.6 6.6M101.1 187.7l6.6 6.6m0 -6.6l-6.6 6.6M96.3 207.1l6.6 6.6m0 -6.6l-6.6 6.6M98.3 203.1l6.6 6.6m0 -6.6l-6.6 6.6M96.9 206.1l6.6 6.6m0 -6.6l-6.6 6.6M98.7 206.3l6.6 6.6m0 -6.6l-6.6 6.6M108.9 201.4l6.6 6.6m0 -6.6l-6.6 6.6M99.5 188.8l6.6 6.6m0 -6.6l-6.6 6.6M115.8 193.5l6.6 6.6m0 -6.6l-6.6 6.6M96.5 190.7l6.6 6.6m0 -6.6l-6.6 6.6M88.0 192.5l6.6 6.6m0 -6.6l-6.6 6.6M102.2 189.8l6.6 6.6m0 -6.6l-6.6 6.6M111.9 201.6l6.6 6.6m0 -6.6l-6.6 6.6M114.3 196.9l6.6 6.6m0 -6.6l-6.6 6.6M109.7 182.9l6.6 6.6m0 -6.6l-6.6 6.6M102.8 186.1l6.6 6.6m0 -6.6l-6.6 6.6M78.2 192.1l6.6 6.6m0 -6.6l-6.6 6.6M84.2 198.2l6.6 6.6m0 -6.6l-6.6 6.6M86.8 190.3l6.6 6.6m0 -6.6l-6.6 6.6M90.2 188.6l6.6 6.6m0 -6.6l-6.6 6.6M75.5 204.4l6.6 6.6m0 -6.6l-6.6 6.6M80.8 194.7l6.6 6.6m0 -6.6l-6.6 6.6M77.5 198.4l6.6 6.6m0 -6.6l-6.6 6.6M107.0 197.1l6.6 6.6m0 -6.6l-6.6 6.6M81.4 206.9l6.6 6.6m0 -6.6l-6.6 6.6M104.1 187.7l6.6 6.6m0 -6.6l-6.6 6.6M86.7 195.5l6.6 6.6m0 -6.6l-6.6 6.6M85.5 206.6l6.6 6.6m0 -6.6l-6.6 6.6M85.9 203.0l6.6 6.6m0 -6.6l-6.6 6.6M70.1 203.7l6.6 6.6m0 -6.6l-6.6 6.6M113.1 206.5l6.6 6.6m0 -6.6l-6.6 6.6M107.0 191.5l6.6 6.6m0 -6.6l-6.6 6.6M105.4 189.0l6.6 6.6m0 -6.6l-6.6 6.6M75.2 196.7l6.6 6.6m0 -6.6l-6.6 6.6M87.9 203.8l6.6 6.6m0 -6.6l-6.6 6.6M95.4 207.2l6.6 6.6m0 -6.6l-6.6 6.6M78.7 204.8l6.6 6.6m0 -6.6l-6.6 6.6M85.1 203.3l6.6 6.6m0 -6.6l-6.6 6.6M76.9 192.9l6.6 6.6m0 -6.6l-6.6 6.6M87.8 195.0l6.6 6.6m0 -6.6l-6.6 6.6M89.7 193.5l6.6 6.6m0 -6.6l-6.6 6.6M111.4 202.0l6.6 6.6m0 -6.6l-6.6 6.6M75.8 203.9l6.6 6.6m0 -6.6l-6.6 6.6M82.4 207.3l6.6 6.6m0 -6.6l-6.6 6.6M82.5 199.3l6.6 6.6m0 -6.6l-6.6 6.6M117.9 184.4l6.6 6.6m0 -6.6l-6.6 6.6M85.4 194.4l6.6 6.6m0 -6.6l-6.6 6.6M121.1 178.4l6.6 6.6m0 -6.6l-6.6 6.6M102.4 207.0l6.6 6.6m0 -6.6l-6.6 6.6M106.2 196.5l6.6 6.6m0 -6.6l-6.6 6.6M98.4 184.8l6.6 6.6m0 -6.6l-6.6 6.6M103.8 205.7l6.6 6.6m0 -6.6l-6.6 6.6M86.5 202.7l6.6 6.6m0 -6.6l-6.6 6.6M98.5 193.8l6.6 6.6m0 -6.6l-6.6 6.6M73.7 195.7l6.6 6.6m0 -6.6l-6.6 6.6M113.2 185.3l6.6 6.6m0 -6.6l-6.6 6.6M97.0 205.0l6.6 6.6m0 -6.6l-6.6 6.6M78.1 198.3l6.6 6.6m0 -6.6l-6.6 6.6M93.7 187.8l6.6 6.6m0 -6.6l-6.6 6.6M104.0 188.5l6.6 6.6m0 -6.6l-6.6 6.6M83.4 202.1l6.6 6.6m0 -6.6l-6.6 6.6M91.0 194.9l6.6 6.6m0 -6.6l-6.6 6.6M96.2 196.1l6.6 6.6m0 -6.6l-6.6 6.6M106.1 198.8l6.6 6.6m0 -6.6l-6.6 6.6M95.9 190.5l6.6 6.6m0 -6.6l-6.6 6.6M96.8 203.7l6.6 6.6m0 -6.6l-6.6 6.6M110.3 203.8l6.6 6.6m0 -6.6l-6.6 6.6M106.4 202.7l6.6 6.6m0 -6.6l-6.6 6.6M106.9 199.0l6.6 6.6m0 -6.6l-6.6 6.6M99.9 199.7l6.6 6.6m0 -6.6l-6.6 6.6M105.8 198.4l6.6 6.6m0 -6.6l-6.6 6.6M90.0 201.2l6.6 6.6m0 -6.6l-6.6 6.6M76.0 194.5l6.6 6.6m0 -6.6l-6.6 6.6M82.9 199.4l6.6 6.6m0 -6.6l-6.6 6.6M101.8 202.3l6.6 6.6m0 -6.6l-6.6 6.6M84.8 192.6l6.6 6.6m0 -6.6l-6.6 6.6M110.5 193.5l6.6 6.6m0 -6.6l-6.6 6.6M100.0 185.0l6.6 6.6m0 -6.6l-6.6 6.6M88.6 192.1l6.6 6.6m0 -6.6l-6.6 6.6M93.1 189.5l6.6 6.6m0 -6.6l-6.6 6.6M90.9 200.5l6.6 6.6m0 -6.6l-6.6 6.6M95.8 196.1l6.6 6.6m0 -6.6l-6.6 6.6M94.2 202.2l6.6 6.6m0 -6.6l-6.6 6.6M102.6 192.2l6.6 6.6m0 -6.6l-6.6 6.6M103.6 196.1l6.6 6.6m0 -6.6l-6.6 6.6M91.3 195.5l6.6 6.6m0 -6.6l-6.6 6.6M101.8 186.2l6.6 6.6m0 -6.6l-6.6 6.6M95.9 186.7l6.6 6.6m0 -6.6l-6.6 6.6M83.1 181.4l6.6 6.6m0 -6.6l-6.6 6.6M84.2 191.4l6.6 6.6m0 -6.6l-6.6 6.6M80.1 188.2l6.6 6.6m0 -6.6l-6.6 6.6M95.7 170.1l6.6 6.6m0 -6.6l-6.6 6.6M104.3 172.4l6.6 6.6m0 -6.6l-6.6 6.6M84.5 192.7l6.6 6.6m0 -6.6l-6.6 6.6M105.1 174.8l6.6 6.6m0 -6.6l-6.6 6.6M97.7 175.8l6.6 6.6m0 -6.6l-6.6 6.6M102.5 179.7l6.6 6.6m0 -6.6l-6.6 6.6M91.1 185.7l6.6 6.6m0 -6.6l-6.6 6.6M87.2 182.3l6.6 6.6m0 -6.6l-6.6 6.6M107.2 172.0l6.6 6.6m0 -6.6l-6.6 6.6M86.4 176.3l6.6 6.6m0 -6.6l-6.6 6.6M112.1 147.3l6.6 6.6m0 -6.6l-6.6 6.6M120.8 153.1l6.6 6.6m0 -6.6l-6.6 6.6M116.4 156.8l6.6 6.6m0 -6.6l-6.6 6.6M109.1 162.6l6.6 6.6m0 -6.6l-6.6 6.6M118.6 162.2l6.6 6.6m0 -6.6l-6.6 6.6M123.0 165.9l6.6 6.6m0 -6.6l-6.6 6.6M93.4 173.9l6.6 6.6m0 -6.6l-6.6 6.6M101.1 177.6l6.6 6.6m0 -6.6l-6.6 6.6M105.5 174.7l6.6 6.6m0 -6.6l-6.6 6.6M120.1 173.9l6.6 6.6m0 -6.6l-6.6 6.6M113.5 180.5l6.6 6.6m0 -6.6l-6.6 6.6M119.4 182.0l6.6 6.6m0 -6.6l-6.6 6.6M93.1 184.1l6.6 6.6m0 -6.6l-6.6 6.6M99.7 183.4l6.6 6.6m0 -6.6l-6.6 6.6M109.1 183.4l6.6 6.6m0 -6.6l-6.6 6.6M121.1 196.6l6.6 6.6m0 -6.6l-6.6 6.6M113.6 197.4l6.6 6.6m0 -6.6l-6.6 6.6M107.8 206.1l6.6 6.6m0 -6.6l-6.6 6.6M264.5 110.9l6.6 6.6m0 -6.6l-6.6 6.6M240.0 123.1l6.6 6.6m0 -6.6l-6.6 6.6M205.0 93.9l6.6 6.6m0 -6.6l-6.6 6.6M210.8 97.4l6.6 6.6m0 -6.6l-6.6 6.6M217.8 91.5l6.6 6.6m0 -6.6l-6.6 6.6M219.0 95.0l6.6 6.6m0 -6.6l-6.6 6.6M190.9 97.4l6.6 6.6m0 -6.6l-6.6 6.6M185.1 103.2l6.6 6.6m0 -6.6l-6.6 6.6M176.9 96.2l6.6 6.6m0 -6.6l-6.6 6.6M206.1 106.7l6.6 6.6m0 -6.6l-6.6 6.6M212.0 107.9l6.6 6.6m0 -6.6l-6.6 6.6M223.7 100.9l6.6 6.6m0 -6.6l-6.6 6.6M179.3 114.9l6.6 6.6m0 -6.6l-6.6 6.6M180.4 118.4l6.6 6.6m0 -6.6l-6.6 6.6M182.8 120.7l6.6 6.6m0 -6.6l-6.6 6.6M181.6 123.1l6.6 6.6m0 -6.6l-6.6 6.6M167.6 111.4l6.6 6.6m0 -6.6l-6.6 6.6M145.4 114.9l6.6 6.6m0 -6.6l-6.6 6.6M148.9 111.4l6.6 6.6m0 -6.6l-6.6 6.6M146.6 135.9l6.6 6.6m0 -6.6l-6.6 6.6M150.1 138.3l6.6 6.6m0 -6.6l-6.6 6.6M151.2 134.8l6.6 6.6m0 -6.6l-6.6 6.6M178.1 140.6l6.6 6.6m0 -6.6l-6.6 6.6M166.4 155.8l6.6 6.6m0 -6.6l-6.6 6.6M130.2 147.6l6.6 6.6m0 -6.6l-6.6 6.6M133.7 148.8l6.6 6.6m0 -6.6l-6.6 6.6M132.5 155.8l6.6 6.6m0 -6.6l-6.6 6.6M134.9 156.9l6.6 6.6m0 -6.6l-6.6 6.6M143.1 153.4l6.6 6.6m0 -6.6l-6.6 6.6M125.5 162.8l6.6 6.6m0 -6.6l-6.6 6.6M127.9 166.3l6.6 6.6m0 -6.6l-6.6 6.6M137.2 172.1l6.6 6.6m0 -6.6l-6.6 6.6M171.1 174.5l6.6 6.6m0 -6.6l-6.6 6.6M155.9 180.3l6.6 6.6m0 -6.6l-6.6 6.6M159.4 182.6l6.6 6.6m0 -6.6l-6.6 6.6M147.7 188.5l6.6 6.6m0 -6.6l-6.6 6.6M127.9 193.2l6.6 6.6m0 -6.6l-6.6 6.6M197.2 162.0l6.6 6.6m0 -6.6l-6.6 6.6" stroke="#F4B183" stroke-width="1.0" fill="none"/>
<path d="M78.2 203.2l6.6 6.6m0 -6.6l-6.6 6.6M82.5 203.6l6.6 6.6m0 -6.6l-6.6 6.6M86.0 202.7l6.6 6.6m0 -6.6l-6.6 6.6M91.7 196.6l6.6 6.6m0 -6.6l-6.6 6.6M96.1 203.2l6.6 6.6m0 -6.6l-6.6 6.6M98.3 200.1l6.6 6.6m0 -6.6l-6.6 6.6M106.6 201.0l6.6 6.6m0 -6.6l-6.6 6.6M106.7 201.0l6.6 6.6m0 -6.6l-6.6 6.6M131.4 133.6l6.6 6.6m0 -6.6l-6.6 6.6M139.6 134.8l6.6 6.6m0 -6.6l-6.6 6.6M141.9 133.6l6.6 6.6m0 -6.6l-6.6 6.6M162.9 128.9l6.6 6.6m0 -6.6l-6.6 6.6M168.7 130.1l6.6 6.6m0 -6.6l-6.6 6.6M168.7 134.8l6.6 6.6m0 -6.6l-6.6 6.6M176.9 128.9l6.6 6.6m0 -6.6l-6.6 6.6M180.4 133.6l6.6 6.6m0 -6.6l-6.6 6.6M195.6 132.0l6.6 6.6m0 -6.6l-6.6 6.6M221.3 134.3l6.6 6.6m0 -6.6l-6.6 6.6M125.5 201.3l6.6 6.6m0 -6.6l-6.6 6.6" stroke="#548235" stroke-width="1.0" fill="none"/>
<rect x="200.5" y="145.2" width="106.09999999999997" height="81.4" fill="#fff"/>
<rect x="206.8" y="146.7" width="98.59999999999997" height="73.4" fill="none" stroke="#C8C8C8" stroke-width="0.9"/>
<rect x="206.80" y="217.51" width="6.16" height="2.59" fill="#FDCA8F" stroke="#D4A26A" stroke-width="0.35"/>
<text x="209.88" y="220.40" font-size="4.4" fill="#222" text-anchor="middle" stroke="#222" stroke-width="0.1">3</text>
<rect x="212.96" y="219.24" width="6.16" height="0.86" fill="#8FD39A" stroke="#5DA86A" stroke-width="0.35"/>
<text x="216.04" y="221.27" font-size="4.4" fill="#222" text-anchor="middle" stroke="#222" stroke-width="0.1">1</text>
<rect x="219.12" y="203.68" width="6.16" height="16.42" fill="#FDCA8F" stroke="#D4A26A" stroke-width="0.35"/>
<text x="222.21" y="213.49" font-size="4.4" fill="#222" text-anchor="middle" stroke="#222" stroke-width="0.1">19</text>
<rect x="225.29" y="218.37" width="6.16" height="1.73" fill="#8FD39A" stroke="#5DA86A" stroke-width="0.35"/>
<text x="228.37" y="220.84" font-size="4.4" fill="#222" text-anchor="middle" stroke="#222" stroke-width="0.1">2</text>
<rect x="231.45" y="155.30" width="6.16" height="64.80" fill="#FDCA8F" stroke="#D4A26A" stroke-width="0.35"/>
<text x="234.53" y="189.30" font-size="4.4" fill="#222" text-anchor="middle" stroke="#222" stroke-width="0.1">75</text>
<rect x="237.61" y="214.92" width="6.16" height="5.18" fill="#8FD39A" stroke="#5DA86A" stroke-width="0.35"/>
<text x="240.69" y="219.11" font-size="4.4" fill="#222" text-anchor="middle" stroke="#222" stroke-width="0.1">6</text>
<rect x="243.78" y="182.95" width="6.16" height="37.15" fill="#FDCA8F" stroke="#D4A26A" stroke-width="0.35"/>
<text x="246.86" y="203.12" font-size="4.4" fill="#222" text-anchor="middle" stroke="#222" stroke-width="0.1">43</text>
<rect x="249.94" y="214.05" width="6.16" height="6.05" fill="#8FD39A" stroke="#5DA86A" stroke-width="0.35"/>
<text x="253.02" y="218.68" font-size="4.4" fill="#222" text-anchor="middle" stroke="#222" stroke-width="0.1">7</text>
<rect x="256.10" y="210.60" width="6.16" height="9.50" fill="#FDCA8F" stroke="#D4A26A" stroke-width="0.35"/>
<text x="259.18" y="216.95" font-size="4.4" fill="#222" text-anchor="middle" stroke="#222" stroke-width="0.1">11</text>
<rect x="262.26" y="218.37" width="6.16" height="1.73" fill="#8FD39A" stroke="#5DA86A" stroke-width="0.35"/>
<text x="265.34" y="220.84" font-size="4.4" fill="#222" text-anchor="middle" stroke="#222" stroke-width="0.1">2</text>
<rect x="268.42" y="217.51" width="6.16" height="2.59" fill="#FDCA8F" stroke="#D4A26A" stroke-width="0.35"/>
<text x="271.51" y="220.40" font-size="4.4" fill="#222" text-anchor="middle" stroke="#222" stroke-width="0.1">3</text>
<rect x="274.59" y="219.24" width="6.16" height="0.86" fill="#8FD39A" stroke="#5DA86A" stroke-width="0.35"/>
<text x="277.67" y="221.27" font-size="4.4" fill="#222" text-anchor="middle" stroke="#222" stroke-width="0.1">1</text>
<rect x="280.75" y="215.78" width="6.16" height="4.32" fill="#FDCA8F" stroke="#D4A26A" stroke-width="0.35"/>
<text x="283.83" y="219.54" font-size="4.4" fill="#222" text-anchor="middle" stroke="#222" stroke-width="0.1">5</text>
<rect x="286.91" y="219.24" width="6.16" height="0.86" fill="#8FD39A" stroke="#5DA86A" stroke-width="0.35"/>
<text x="289.99" y="221.27" font-size="4.4" fill="#222" text-anchor="middle" stroke="#222" stroke-width="0.1">1</text>
<rect x="293.07" y="219.24" width="6.16" height="0.86" fill="#FDCA8F" stroke="#D4A26A" stroke-width="0.35"/>
<text x="296.16" y="221.27" font-size="4.4" fill="#222" text-anchor="middle" stroke="#222" stroke-width="0.1">1</text>
<text x="302.32" y="221.70" font-size="4.4" fill="#222" text-anchor="middle" stroke="#222" stroke-width="0.1">0</text>
<path d="M206.8 146.7V220.1H305.4" fill="none" stroke="#777" stroke-width="0.6"/>
<path d="M205.60 220.10H206.8" stroke="#777" stroke-width="0.5"/>
<text x="205.20" y="221.50" font-size="4.0" fill="#333" text-anchor="end">0</text>
<path d="M206.10 215.78H206.8" stroke="#777" stroke-width="0.4"/>
<path d="M205.60 211.46H206.8" stroke="#777" stroke-width="0.5"/>
<text x="205.20" y="212.86" font-size="4.0" fill="#333" text-anchor="end">10</text>
<path d="M206.10 207.14H206.8" stroke="#777" stroke-width="0.4"/>
<path d="M205.60 202.82H206.8" stroke="#777" stroke-width="0.5"/>
<text x="205.20" y="204.22" font-size="4.0" fill="#333" text-anchor="end">20</text>
<path d="M206.10 198.50H206.8" stroke="#777" stroke-width="0.4"/>
<path d="M205.60 194.18H206.8" stroke="#777" stroke-width="0.5"/>
<text x="205.20" y="195.58" font-size="4.0" fill="#333" text-anchor="end">30</text>
<path d="M206.10 189.86H206.8" stroke="#777" stroke-width="0.4"/>
<path d="M205.60 185.54H206.8" stroke="#777" stroke-width="0.5"/>
<text x="205.20" y="186.94" font-size="4.0" fill="#333" text-anchor="end">40</text>
<path d="M206.10 181.22H206.8" stroke="#777" stroke-width="0.4"/>
<path d="M205.60 176.90H206.8" stroke="#777" stroke-width="0.5"/>
<text x="205.20" y="178.30" font-size="4.0" fill="#333" text-anchor="end">50</text>
<path d="M206.10 172.58H206.8" stroke="#777" stroke-width="0.4"/>
<path d="M205.60 168.26H206.8" stroke="#777" stroke-width="0.5"/>
<text x="205.20" y="169.66" font-size="4.0" fill="#333" text-anchor="end">60</text>
<path d="M206.10 163.94H206.8" stroke="#777" stroke-width="0.4"/>
<path d="M205.60 159.62H206.8" stroke="#777" stroke-width="0.5"/>
<text x="205.20" y="161.02" font-size="4.0" fill="#333" text-anchor="end">70</text>
<path d="M206.10 155.30H206.8" stroke="#777" stroke-width="0.4"/>
<path d="M205.60 150.98H206.8" stroke="#777" stroke-width="0.5"/>
<text x="205.20" y="152.38" font-size="4.0" fill="#333" text-anchor="end">80</text>
<path d="M206.80 220.1V221.29999999999998" stroke="#777" stroke-width="0.5"/>
<text x="206.80" y="224.90" font-size="4.0" fill="#333" text-anchor="middle">-60</text>
<path d="M219.12 220.1V221.29999999999998" stroke="#777" stroke-width="0.5"/>
<text x="219.12" y="224.90" font-size="4.0" fill="#333" text-anchor="middle">-40</text>
<path d="M231.45 220.1V221.29999999999998" stroke="#777" stroke-width="0.5"/>
<text x="231.45" y="224.90" font-size="4.0" fill="#333" text-anchor="middle">-20</text>
<path d="M243.78 220.1V221.29999999999998" stroke="#777" stroke-width="0.5"/>
<text x="243.78" y="224.90" font-size="4.0" fill="#333" text-anchor="middle">0</text>
<path d="M256.10 220.1V221.29999999999998" stroke="#777" stroke-width="0.5"/>
<text x="256.10" y="224.90" font-size="4.0" fill="#333" text-anchor="middle">20</text>
<path d="M268.42 220.1V221.29999999999998" stroke="#777" stroke-width="0.5"/>
<text x="268.42" y="224.90" font-size="4.0" fill="#333" text-anchor="middle">40</text>
<path d="M280.75 220.1V221.29999999999998" stroke="#777" stroke-width="0.5"/>
<text x="280.75" y="224.90" font-size="4.0" fill="#333" text-anchor="middle">60</text>
<path d="M293.07 220.1V221.29999999999998" stroke="#777" stroke-width="0.5"/>
<text x="293.07" y="224.90" font-size="4.0" fill="#333" text-anchor="middle">80</text>
<path d="M305.40 220.1V221.29999999999998" stroke="#777" stroke-width="0.5"/>
<text x="305.40" y="224.90" font-size="4.0" fill="#333" text-anchor="middle">100</text>
<rect x="280.80" y="147.50" width="23.4" height="9.5" fill="#fff" stroke="#E0E0E0" stroke-width="0.4"/>
<rect x="281.10" y="148.10" width="8.3" height="3.7" fill="#FDCA8F"/>
<rect x="281.10" y="152.70" width="8.3" height="3.7" fill="#8FD39A"/>
<text x="290.70" y="151.30" font-size="4.0" fill="#222" textLength="13" lengthAdjust="spacingAndGlyphs">Training</text>
<text x="290.70" y="155.90" font-size="4.0" fill="#222" textLength="12" lengthAdjust="spacingAndGlyphs">Testing</text>
<clipPath id="clipd"><rect x="67.3" y="11.0" width="243.0" height="216.4"/></clipPath>
<g clip-path="url(#clipd)" fill="none" stroke-width="1.6" stroke-dasharray="5.2 3.6 1.3 4.9">
<line x1="67.3" y1="227.4" x2="310.3" y2="11.0" stroke="#FF0000"/>
<line x1="67.3" y1="227.4" x2="269.8" y2="11.0" stroke="#7030A0"/>
<line x1="67.3" y1="227.4" x2="310.3" y2="54.28" stroke="#7030A0"/>
</g>
<rect x="67.6" y="11.2" width="242.7" height="216.2" fill="none" stroke="#2a2a2a" stroke-width="1.3"/>
<g transform="translate(220.5 57.599999999999994) rotate(-47)"><text x="0.00" y="0.00" font-size="12.0" font-family="Liberation Serif" font-weight="bold" fill="#000" textLength="44" lengthAdjust="spacingAndGlyphs" stroke="#000" stroke-width="0.25"><tspan font-style="italic">y</tspan> = 1.2<tspan font-style="italic">x</tspan></text></g>
<g transform="translate(266.40000000000003 100.3) rotate(-34.5)"><text x="0.00" y="0.00" font-size="11.8" font-family="Liberation Serif" font-weight="bold" fill="#000" textLength="44.5" lengthAdjust="spacingAndGlyphs" stroke="#000" stroke-width="0.25"><tspan font-style="italic">y</tspan> = 0.8<tspan font-style="italic">x</tspan></text></g>
<path d="M158.6 198.5L163.6 203.5M158.6 203.5L163.6 198.5" stroke="#F4B183" stroke-width="1.2"/>
<text x="166.20" y="203.80" font-size="9.2" fill="#333" textLength="27.6" lengthAdjust="spacingAndGlyphs" stroke="#333" stroke-width="0.2">Training</text>
<path d="M158.6 214.8L163.6 219.8M158.6 219.8L163.6 214.8" stroke="#548235" stroke-width="1.2"/>
<text x="166.20" y="220.10" font-size="9.2" fill="#333" textLength="24.5" lengthAdjust="spacingAndGlyphs" stroke="#333" stroke-width="0.2">Testing</text>
</g>
<g transform="translate(0 601.5)">
<text x="59.70" y="230.30" font-size="8.4" fill="#404040" text-anchor="end" textLength="15.3" lengthAdjust="spacingAndGlyphs" stroke="#404040" stroke-width="0.12">0.00</text>
<text x="59.70" y="194.23" font-size="8.4" fill="#404040" text-anchor="end" textLength="19.2" lengthAdjust="spacingAndGlyphs" stroke="#404040" stroke-width="0.12">50.00</text>
<text x="59.70" y="158.17" font-size="8.4" fill="#404040" text-anchor="end" textLength="24.0" lengthAdjust="spacingAndGlyphs" stroke="#404040" stroke-width="0.12">100.00</text>
<text x="59.70" y="122.10" font-size="8.4" fill="#404040" text-anchor="end" textLength="24.0" lengthAdjust="spacingAndGlyphs" stroke="#404040" stroke-width="0.12">150.00</text>
<text x="59.70" y="86.03" font-size="8.4" fill="#404040" text-anchor="end" textLength="24.0" lengthAdjust="spacingAndGlyphs" stroke="#404040" stroke-width="0.12">200.00</text>
<text x="59.70" y="49.97" font-size="8.4" fill="#404040" text-anchor="end" textLength="24.0" lengthAdjust="spacingAndGlyphs" stroke="#404040" stroke-width="0.12">250.00</text>
<text x="59.70" y="13.90" font-size="8.4" fill="#404040" text-anchor="end" textLength="24.0" lengthAdjust="spacingAndGlyphs" stroke="#404040" stroke-width="0.12">300.00</text>
<text x="67.30" y="241.90" font-size="8.4" fill="#404040" text-anchor="middle" textLength="15.2" lengthAdjust="spacingAndGlyphs" stroke="#404040" stroke-width="0.12">0.00</text>
<text x="107.80" y="241.90" font-size="8.4" fill="#404040" text-anchor="middle" textLength="19.4" lengthAdjust="spacingAndGlyphs" stroke="#404040" stroke-width="0.12">50.00</text>
<text x="148.30" y="241.90" font-size="8.4" fill="#404040" text-anchor="middle" textLength="24.4" lengthAdjust="spacingAndGlyphs" stroke="#404040" stroke-width="0.12">100.00</text>
<text x="188.80" y="241.90" font-size="8.4" fill="#404040" text-anchor="middle" textLength="24.4" lengthAdjust="spacingAndGlyphs" stroke="#404040" stroke-width="0.12">150.00</text>
<text x="229.30" y="241.90" font-size="8.4" fill="#404040" text-anchor="middle" textLength="24.4" lengthAdjust="spacingAndGlyphs" stroke="#404040" stroke-width="0.12">200.00</text>
<text x="269.80" y="241.90" font-size="8.4" fill="#404040" text-anchor="middle" textLength="24.4" lengthAdjust="spacingAndGlyphs" stroke="#404040" stroke-width="0.12">250.00</text>
<text x="310.30" y="241.90" font-size="8.4" fill="#404040" text-anchor="middle" textLength="24.4" lengthAdjust="spacingAndGlyphs" stroke="#404040" stroke-width="0.12">300.00</text>
<text x="189.00" y="256.00" font-size="9.4" fill="#333" text-anchor="middle" textLength="81" lengthAdjust="spacingAndGlyphs" stroke="#333" stroke-width="0.2">Actual PPV (mm/sec)</text>
<g transform="translate(32.3 119.1) rotate(-90)"><text x="0.00" y="0.00" font-size="9.4" fill="#333" text-anchor="middle" textLength="92.6" lengthAdjust="spacingAndGlyphs" stroke="#333" stroke-width="0.2">Predicted PPV (mm/sec)</text></g>
<text x="171.50" y="282.00" font-size="13.6" font-family="Liberation Serif" font-weight="bold" fill="#000" text-anchor="middle">(e)</text>
<text x="72.30" y="23.00" font-size="9.9" font-weight="bold" fill="#262626" textLength="65.1" lengthAdjust="spacingAndGlyphs" stroke="#262626" stroke-width="0.25">Training Phase:</text>
<text x="72.30" y="35.60" font-size="9.9" fill="#262626" textLength="104" lengthAdjust="spacingAndGlyphs" stroke="#262626" stroke-width="0.25">RMSE = 20.4729mm/sec</text>
<text x="72.30" y="48.20" font-size="9.9" fill="#262626" textLength="45" lengthAdjust="spacingAndGlyphs" stroke="#262626" stroke-width="0.25">R = 0.9093</text>
<text x="72.30" y="60.80" font-size="9.9" fill="#262626" textLength="50.8" lengthAdjust="spacingAndGlyphs" stroke="#262626" stroke-width="0.25">VAF = 82.68</text>
<text x="72.30" y="73.40" font-size="9.9" fill="#262626" textLength="35.9" lengthAdjust="spacingAndGlyphs" stroke="#262626" stroke-width="0.25">PI = 1.57</text>
<text x="72.30" y="86.00" font-size="9.9" font-weight="bold" fill="#262626" textLength="61.3" lengthAdjust="spacingAndGlyphs" stroke="#262626" stroke-width="0.25">Testing Phase:</text>
<text x="72.30" y="98.60" font-size="9.9" fill="#262626" textLength="104" lengthAdjust="spacingAndGlyphs" stroke="#262626" stroke-width="0.25">RMSE = 24.3589mm/sec</text>
<text x="72.30" y="111.20" font-size="9.9" fill="#262626" textLength="45" lengthAdjust="spacingAndGlyphs" stroke="#262626" stroke-width="0.25">R = 0.8872</text>
<text x="72.30" y="123.80" font-size="9.9" fill="#262626" textLength="50.8" lengthAdjust="spacingAndGlyphs" stroke="#262626" stroke-width="0.25">VAF = 78.64</text>
<text x="72.30" y="136.40" font-size="9.9" fill="#262626" textLength="35.9" lengthAdjust="spacingAndGlyphs" stroke="#262626" stroke-width="0.25">PI = 1.48</text>
<path d="M85.4 195.5l6.6 6.6m0 -6.6l-6.6 6.6M91.7 188.9l6.6 6.6m0 -6.6l-6.6 6.6M97.5 190.5l6.6 6.6m0 -6.6l-6.6 6.6M93.4 186.6l6.6 6.6m0 -6.6l-6.6 6.6M95.7 207.7l6.6 6.6m0 -6.6l-6.6 6.6M79.0 204.4l6.6 6.6m0 -6.6l-6.6 6.6M106.2 191.0l6.6 6.6m0 -6.6l-6.6 6.6M94.7 205.4l6.6 6.6m0 -6.6l-6.6 6.6M116.6 199.1l6.6 6.6m0 -6.6l-6.6 6.6M83.4 205.0l6.6 6.6m0 -6.6l-6.6 6.6M95.4 192.8l6.6 6.6m0 -6.6l-6.6 6.6M99.7 186.4l6.6 6.6m0 -6.6l-6.6 6.6M95.8 205.7l6.6 6.6m0 -6.6l-6.6 6.6M73.5 202.1l6.6 6.6m0 -6.6l-6.6 6.6M113.3 184.3l6.6 6.6m0 -6.6l-6.6 6.6M78.5 197.6l6.6 6.6m0 -6.6l-6.6 6.6M111.2 181.6l6.6 6.6m0 -6.6l-6.6 6.6M105.0 188.7l6.6 6.6m0 -6.6l-6.6 6.6M101.1 199.7l6.6 6.6m0 -6.6l-6.6 6.6M92.6 200.4l6.6 6.6m0 -6.6l-6.6 6.6M105.7 191.4l6.6 6.6m0 -6.6l-6.6 6.6M103.4 186.5l6.6 6.6m0 -6.6l-6.6 6.6M92.5 203.8l6.6 6.6m0 -6.6l-6.6 6.6M99.5 188.9l6.6 6.6m0 -6.6l-6.6 6.6M77.0 206.5l6.6 6.6m0 -6.6l-6.6 6.6M100.6 189.7l6.6 6.6m0 -6.6l-6.6 6.6M82.5 195.0l6.6 6.6m0 -6.6l-6.6 6.6M110.5 198.7l6.6 6.6m0 -6.6l-6.6 6.6M91.3 193.0l6.6 6.6m0 -6.6l-6.6 6.6M75.4 199.1l6.6 6.6m0 -6.6l-6.6 6.6M96.3 191.1l6.6 6.6m0 -6.6l-6.6 6.6M91.8 192.6l6.6 6.6m0 -6.6l-6.6 6.6M74.5 201.6l6.6 6.6m0 -6.6l-6.6 6.6M96.2 205.3l6.6 6.6m0 -6.6l-6.6 6.6M84.5 207.2l6.6 6.6m0 -6.6l-6.6 6.6M112.6 197.5l6.6 6.6m0 -6.6l-6.6 6.6M92.7 189.4l6.6 6.6m0 -6.6l-6.6 6.6M80.3 195.0l6.6 6.6m0 -6.6l-6.6 6.6M79.5 194.4l6.6 6.6m0 -6.6l-6.6 6.6M93.3 200.1l6.6 6.6m0 -6.6l-6.6 6.6M73.8 203.1l6.6 6.6m0 -6.6l-6.6 6.6M109.3 199.1l6.6 6.6m0 -6.6l-6.6 6.6M87.9 190.9l6.6 6.6m0 -6.6l-6.6 6.6M83.4 193.0l6.6 6.6m0 -6.6l-6.6 6.6M99.6 202.1l6.6 6.6m0 -6.6l-6.6 6.6M87.9 207.6l6.6 6.6m0 -6.6l-6.6 6.6M103.9 197.8l6.6 6.6m0 -6.6l-6.6 6.6M97.3 206.1l6.6 6.6m0 -6.6l-6.6 6.6M93.2 198.5l6.6 6.6m0 -6.6l-6.6 6.6M100.1 204.0l6.6 6.6m0 -6.6l-6.6 6.6M95.7 191.7l6.6 6.6m0 -6.6l-6.6 6.6M93.8 206.5l6.6 6.6m0 -6.6l-6.6 6.6M102.9 202.0l6.6 6.6m0 -6.6l-6.6 6.6M74.8 202.0l6.6 6.6m0 -6.6l-6.6 6.6M79.9 199.8l6.6 6.6m0 -6.6l-6.6 6.6M79.5 201.6l6.6 6.6m0 -6.6l-6.6 6.6M100.9 190.2l6.6 6.6m0 -6.6l-6.6 6.6M98.6 191.2l6.6 6.6m0 -6.6l-6.6 6.6M119.0 179.0l6.6 6.6m0 -6.6l-6.6 6.6M94.5 202.7l6.6 6.6m0 -6.6l-6.6 6.6M73.8 200.1l6.6 6.6m0 -6.6l-6.6 6.6M108.0 201.0l6.6 6.6m0 -6.6l-6.6 6.6M89.2 191.1l6.6 6.6m0 -6.6l-6.6 6.6M85.4 196.8l6.6 6.6m0 -6.6l-6.6 6.6M97.2 205.1l6.6 6.6m0 -6.6l-6.6 6.6M110.3 197.0l6.6 6.6m0 -6.6l-6.6 6.6M110.4 196.2l6.6 6.6m0 -6.6l-6.6 6.6M89.0 188.0l6.6 6.6m0 -6.6l-6.6 6.6M84.6 204.4l6.6 6.6m0 -6.6l-6.6 6.6M104.3 188.3l6.6 6.6m0 -6.6l-6.6 6.6M84.6 196.0l6.6 6.6m0 -6.6l-6.6 6.6M88.4 189.0l6.6 6.6m0 -6.6l-6.6 6.6M118.5 187.7l6.6 6.6m0 -6.6l-6.6 6.6M108.5 190.2l6.6 6.6m0 -6.6l-6.6 6.6M81.8 202.5l6.6 6.6m0 -6.6l-6.6 6.6M84.2 196.5l6.6 6.6m0 -6.6l-6.6 6.6M85.8 205.4l6.6 6.6m0 -6.6l-6.6 6.6M100.8 187.1l6.6 6.6m0 -6.6l-6.6 6.6M77.0 203.1l6.6 6.6m0 -6.6l-6.6 6.6M109.4 180.8l6.6 6.6m0 -6.6l-6.6 6.6M89.7 191.4l6.6 6.6m0 -6.6l-6.6 6.6M85.9 202.7l6.6 6.6m0 -6.6l-6.6 6.6M92.9 189.5l6.6 6.6m0 -6.6l-6.6 6.6M72.2 204.6l6.6 6.6m0 -6.6l-6.6 6.6M94.3 194.0l6.6 6.6m0 -6.6l-6.6 6.6M79.9 205.2l6.6 6.6m0 -6.6l-6.6 6.6M115.8 198.9l6.6 6.6m0 -6.6l-6.6 6.6M116.5 181.8l6.6 6.6m0 -6.6l-6.6 6.6M111.4 196.1l6.6 6.6m0 -6.6l-6.6 6.6M91.7 190.0l6.6 6.6m0 -6.6l-6.6 6.6M110.4 201.9l6.6 6.6m0 -6.6l-6.6 6.6M81.4 198.5l6.6 6.6m0 -6.6l-6.6 6.6M79.6 194.7l6.6 6.6m0 -6.6l-6.6 6.6M101.6 199.7l6.6 6.6m0 -6.6l-6.6 6.6M102.1 193.6l6.6 6.6m0 -6.6l-6.6 6.6M91.6 178.0l6.6 6.6m0 -6.6l-6.6 6.6M108.5 180.5l6.6 6.6m0 -6.6l-6.6 6.6M81.3 186.8l6.6 6.6m0 -6.6l-6.6 6.6M91.5 191.6l6.6 6.6m0 -6.6l-6.6 6.6M119.2 176.0l6.6 6.6m0 -6.6l-6.6 6.6M87.6 180.7l6.6 6.6m0 -6.6l-6.6 6.6M104.8 183.9l6.6 6.6m0 -6.6l-6.6 6.6M83.6 184.4l6.6 6.6m0 -6.6l-6.6 6.6M120.5 175.9l6.6 6.6m0 -6.6l-6.6 6.6M98.9 185.7l6.6 6.6m0 -6.6l-6.6 6.6M90.7 190.7l6.6 6.6m0 -6.6l-6.6 6.6M109.5 170.7l6.6 6.6m0 -6.6l-6.6 6.6M98.4 172.2l6.6 6.6m0 -6.6l-6.6 6.6M107.6 188.8l6.6 6.6m0 -6.6l-6.6 6.6M122.3 178.8l6.6 6.6m0 -6.6l-6.6 6.6M90.4 186.6l6.6 6.6m0 -6.6l-6.6 6.6M84.8 185.7l6.6 6.6m0 -6.6l-6.6 6.6M116.1 187.9l6.6 6.6m0 -6.6l-6.6 6.6M119.0 152.1l6.6 6.6m0 -6.6l-6.6 6.6M121.4 155.6l6.6 6.6m0 -6.6l-6.6 6.6M120.2 157.9l6.6 6.6m0 -6.6l-6.6 6.6M158.2 181.2l6.6 6.6m0 -6.6l-6.6 6.6M160.5 183.6l6.6 6.6m0 -6.6l-6.6 6.6M148.2 188.8l6.6 6.6m0 -6.6l-6.6 6.6M119.0 176.6l6.6 6.6m0 -6.6l-6.6 6.6M122.5 175.4l6.6 6.6m0 -6.6l-6.6 6.6M123.7 178.9l6.6 6.6m0 -6.6l-6.6 6.6M117.9 184.8l6.6 6.6m0 -6.6l-6.6 6.6M119.0 187.1l6.6 6.6m0 -6.6l-6.6 6.6M119.0 198.8l6.6 6.6m0 -6.6l-6.6 6.6M128.4 197.6l6.6 6.6m0 -6.6l-6.6 6.6M129.5 200.5l6.6 6.6m0 -6.6l-6.6 6.6M112.7 145.5l6.6 6.6m0 -6.6l-6.6 6.6M115.1 182.2l6.6 6.6m0 -6.6l-6.6 6.6M109.2 166.5l6.6 6.6m0 -6.6l-6.6 6.6M101.1 178.7l6.6 6.6m0 -6.6l-6.6 6.6M93.5 174.7l6.6 6.6m0 -6.6l-6.6 6.6M106.9 204.4l6.6 6.6m0 -6.6l-6.6 6.6M265.0 68.3l6.6 6.6m0 -6.6l-6.6 6.6M212.5 82.4l6.6 6.6m0 -6.6l-6.6 6.6M217.1 84.7l6.6 6.6m0 -6.6l-6.6 6.6M240.5 98.7l6.6 6.6m0 -6.6l-6.6 6.6M180.9 98.2l6.6 6.6m0 -6.6l-6.6 6.6M183.3 101.7l6.6 6.6m0 -6.6l-6.6 6.6M184.4 105.3l6.6 6.6m0 -6.6l-6.6 6.6M182.1 106.4l6.6 6.6m0 -6.6l-6.6 6.6M176.3 112.3l6.6 6.6m0 -6.6l-6.6 6.6M191.4 111.1l6.6 6.6m0 -6.6l-6.6 6.6M204.3 104.1l6.6 6.6m0 -6.6l-6.6 6.6M206.6 106.4l6.6 6.6m0 -6.6l-6.6 6.6M211.3 112.3l6.6 6.6m0 -6.6l-6.6 6.6M218.3 109.5l6.6 6.6m0 -6.6l-6.6 6.6M224.1 108.1l6.6 6.6m0 -6.6l-6.6 6.6M145.9 123.9l6.6 6.6m0 -6.6l-6.6 6.6M149.4 126.3l6.6 6.6m0 -6.6l-6.6 6.6M166.9 128.6l6.6 6.6m0 -6.6l-6.6 6.6M170.4 128.6l6.6 6.6m0 -6.6l-6.6 6.6M179.8 123.9l6.6 6.6m0 -6.6l-6.6 6.6M149.4 146.1l6.6 6.6m0 -6.6l-6.6 6.6M152.9 147.3l6.6 6.6m0 -6.6l-6.6 6.6M154.1 146.1l6.6 6.6m0 -6.6l-6.6 6.6M130.7 149.6l6.6 6.6m0 -6.6l-6.6 6.6M134.2 155.5l6.6 6.6m0 -6.6l-6.6 6.6M136.5 156.6l6.6 6.6m0 -6.6l-6.6 6.6M143.6 159.0l6.6 6.6m0 -6.6l-6.6 6.6M166.9 157.8l6.6 6.6m0 -6.6l-6.6 6.6M170.4 169.5l6.6 6.6m0 -6.6l-6.6 6.6M137.7 168.3l6.6 6.6m0 -6.6l-6.6 6.6M129.5 171.8l6.6 6.6m0 -6.6l-6.6 6.6M126.0 174.2l6.6 6.6m0 -6.6l-6.6 6.6M197.2 153.0l6.6 6.6m0 -6.6l-6.6 6.6" stroke="#F4B183" stroke-width="1.0" fill="none"/>
<path d="M126.6 198.8l6.6 6.6m0 -6.6l-6.6 6.6M77.7 197.4l6.6 6.6m0 -6.6l-6.6 6.6M84.1 198.0l6.6 6.6m0 -6.6l-6.6 6.6M91.7 196.3l6.6 6.6m0 -6.6l-6.6 6.6M97.6 196.8l6.6 6.6m0 -6.6l-6.6 6.6M106.9 196.8l6.6 6.6m0 -6.6l-6.6 6.6M131.9 139.1l6.6 6.6m0 -6.6l-6.6 6.6M140.1 138.0l6.6 6.6m0 -6.6l-6.6 6.6M141.2 136.8l6.6 6.6m0 -6.6l-6.6 6.6M163.4 123.9l6.6 6.6m0 -6.6l-6.6 6.6M169.2 123.9l6.6 6.6m0 -6.6l-6.6 6.6M177.4 123.9l6.6 6.6m0 -6.6l-6.6 6.6M169.2 133.3l6.6 6.6m0 -6.6l-6.6 6.6M180.9 141.5l6.6 6.6m0 -6.6l-6.6 6.6M196.1 128.1l6.6 6.6m0 -6.6l-6.6 6.6M221.8 132.8l6.6 6.6m0 -6.6l-6.6 6.6" stroke="#548235" stroke-width="1.0" fill="none"/>
<rect x="200.5" y="145.4" width="106.69999999999999" height="81.19999999999999" fill="#fff"/>
<rect x="205.8" y="146.9" width="100.19999999999999" height="73.0" fill="none" stroke="#C8C8C8" stroke-width="0.9"/>
<rect x="205.80" y="216.98" width="3.85" height="2.92" fill="#FDCA8F" stroke="#D4A26A" stroke-width="0.35"/>
<text x="207.73" y="220.04" font-size="4.4" fill="#222" text-anchor="middle" stroke="#222" stroke-width="0.1">2</text>
<text x="211.58" y="221.50" font-size="4.4" fill="#222" text-anchor="middle" stroke="#222" stroke-width="0.1">0</text>
<rect x="213.51" y="212.60" width="3.85" height="7.30" fill="#FDCA8F" stroke="#D4A26A" stroke-width="0.35"/>
<text x="215.43" y="217.85" font-size="4.4" fill="#222" text-anchor="middle" stroke="#222" stroke-width="0.1">5</text>
<rect x="217.36" y="218.44" width="3.85" height="1.46" fill="#8FD39A" stroke="#5DA86A" stroke-width="0.35"/>
<text x="219.29" y="220.77" font-size="4.4" fill="#222" text-anchor="middle" stroke="#222" stroke-width="0.1">1</text>
<rect x="221.22" y="205.30" width="3.85" height="14.60" fill="#FDCA8F" stroke="#D4A26A" stroke-width="0.35"/>
<text x="223.14" y="214.20" font-size="4.4" fill="#222" text-anchor="middle" stroke="#222" stroke-width="0.1">10</text>
<rect x="225.07" y="215.52" width="3.85" height="4.38" fill="#8FD39A" stroke="#5DA86A" stroke-width="0.35"/>
<text x="227.00" y="219.31" font-size="4.4" fill="#222" text-anchor="middle" stroke="#222" stroke-width="0.1">3</text>
<rect x="228.92" y="168.80" width="3.85" height="51.10" fill="#FDCA8F" stroke="#D4A26A" stroke-width="0.35"/>
<text x="230.85" y="195.95" font-size="4.4" fill="#222" text-anchor="middle" stroke="#222" stroke-width="0.1">35</text>
<rect x="232.78" y="215.52" width="3.85" height="4.38" fill="#8FD39A" stroke="#5DA86A" stroke-width="0.35"/>
<text x="234.70" y="219.31" font-size="4.4" fill="#222" text-anchor="middle" stroke="#222" stroke-width="0.1">3</text>
<rect x="236.63" y="167.34" width="3.85" height="52.56" fill="#FDCA8F" stroke="#D4A26A" stroke-width="0.35"/>
<text x="238.56" y="195.22" font-size="4.4" fill="#222" text-anchor="middle" stroke="#222" stroke-width="0.1">36</text>
<rect x="240.48" y="215.52" width="3.85" height="4.38" fill="#8FD39A" stroke="#5DA86A" stroke-width="0.35"/>
<text x="242.41" y="219.31" font-size="4.4" fill="#222" text-anchor="middle" stroke="#222" stroke-width="0.1">3</text>
<rect x="244.34" y="158.58" width="3.85" height="61.32" fill="#FDCA8F" stroke="#D4A26A" stroke-width="0.35"/>
<text x="246.27" y="190.84" font-size="4.4" fill="#222" text-anchor="middle" stroke="#222" stroke-width="0.1">42</text>
<rect x="248.19" y="212.60" width="3.85" height="7.30" fill="#8FD39A" stroke="#5DA86A" stroke-width="0.35"/>
<text x="250.12" y="217.85" font-size="4.4" fill="#222" text-anchor="middle" stroke="#222" stroke-width="0.1">5</text>
<rect x="252.05" y="206.76" width="3.85" height="13.14" fill="#FDCA8F" stroke="#D4A26A" stroke-width="0.35"/>
<text x="253.97" y="214.93" font-size="4.4" fill="#222" text-anchor="middle" stroke="#222" stroke-width="0.1">9</text>
<rect x="255.90" y="218.44" width="3.85" height="1.46" fill="#8FD39A" stroke="#5DA86A" stroke-width="0.35"/>
<text x="257.83" y="220.77" font-size="4.4" fill="#222" text-anchor="middle" stroke="#222" stroke-width="0.1">1</text>
<rect x="259.75" y="212.60" width="3.85" height="7.30" fill="#FDCA8F" stroke="#D4A26A" stroke-width="0.35"/>
<text x="261.68" y="217.85" font-size="4.4" fill="#222" text-anchor="middle" stroke="#222" stroke-width="0.1">5</text>
<rect x="263.61" y="216.98" width="3.85" height="2.92" fill="#8FD39A" stroke="#5DA86A" stroke-width="0.35"/>
<text x="265.53" y="220.04" font-size="4.4" fill="#222" text-anchor="middle" stroke="#222" stroke-width="0.1">2</text>
<rect x="267.46" y="208.22" width="3.85" height="11.68" fill="#FDCA8F" stroke="#D4A26A" stroke-width="0.35"/>
<text x="269.39" y="215.66" font-size="4.4" fill="#222" text-anchor="middle" stroke="#222" stroke-width="0.1">8</text>
<text x="273.24" y="221.50" font-size="4.4" fill="#222" text-anchor="middle" stroke="#222" stroke-width="0.1">0</text>
<rect x="275.17" y="216.98" width="3.85" height="2.92" fill="#FDCA8F" stroke="#D4A26A" stroke-width="0.35"/>
<text x="277.10" y="220.04" font-size="4.4" fill="#222" text-anchor="middle" stroke="#222" stroke-width="0.1">2</text>
<rect x="279.02" y="218.44" width="3.85" height="1.46" fill="#8FD39A" stroke="#5DA86A" stroke-width="0.35"/>
<text x="280.95" y="220.77" font-size="4.4" fill="#222" text-anchor="middle" stroke="#222" stroke-width="0.1">1</text>
<rect x="282.88" y="215.52" width="3.85" height="4.38" fill="#FDCA8F" stroke="#D4A26A" stroke-width="0.35"/>
<text x="284.80" y="219.31" font-size="4.4" fill="#222" text-anchor="middle" stroke="#222" stroke-width="0.1">3</text>
<text x="288.66" y="221.50" font-size="4.4" fill="#222" text-anchor="middle" stroke="#222" stroke-width="0.1">0</text>
<rect x="290.58" y="216.98" width="3.85" height="2.92" fill="#FDCA8F" stroke="#D4A26A" stroke-width="0.35"/>
<text x="292.51" y="220.04" font-size="4.4" fill="#222" text-anchor="middle" stroke="#222" stroke-width="0.1">2</text>
<rect x="294.44" y="218.44" width="3.85" height="1.46" fill="#8FD39A" stroke="#5DA86A" stroke-width="0.35"/>
<text x="296.37" y="220.77" font-size="4.4" fill="#222" text-anchor="middle" stroke="#222" stroke-width="0.1">1</text>
<rect x="298.29" y="218.44" width="3.85" height="1.46" fill="#FDCA8F" stroke="#D4A26A" stroke-width="0.35"/>
<text x="300.22" y="220.77" font-size="4.4" fill="#222" text-anchor="middle" stroke="#222" stroke-width="0.1">1</text>
<text x="304.07" y="221.50" font-size="4.4" fill="#222" text-anchor="middle" stroke="#222" stroke-width="0.1">0</text>
<path d="M205.8 146.9V219.9H306.0" fill="none" stroke="#777" stroke-width="0.6"/>
<path d="M204.60 219.90H205.8" stroke="#777" stroke-width="0.5"/>
<text x="204.20" y="221.30" font-size="4.0" fill="#333" text-anchor="end">0</text>
<path d="M205.10 212.60H205.8" stroke="#777" stroke-width="0.4"/>
<path d="M204.60 205.30H205.8" stroke="#777" stroke-width="0.5"/>
<text x="204.20" y="206.70" font-size="4.0" fill="#333" text-anchor="end">10</text>
<path d="M205.10 198.00H205.8" stroke="#777" stroke-width="0.4"/>
<path d="M204.60 190.70H205.8" stroke="#777" stroke-width="0.5"/>
<text x="204.20" y="192.10" font-size="4.0" fill="#333" text-anchor="end">20</text>
<path d="M205.10 183.40H205.8" stroke="#777" stroke-width="0.4"/>
<path d="M204.60 176.10H205.8" stroke="#777" stroke-width="0.5"/>
<text x="204.20" y="177.50" font-size="4.0" fill="#333" text-anchor="end">30</text>
<path d="M205.10 168.80H205.8" stroke="#777" stroke-width="0.4"/>
<path d="M204.60 161.50H205.8" stroke="#777" stroke-width="0.5"/>
<text x="204.20" y="162.90" font-size="4.0" fill="#333" text-anchor="end">40</text>
<path d="M205.10 154.20H205.8" stroke="#777" stroke-width="0.4"/>
<path d="M204.60 146.90H205.8" stroke="#777" stroke-width="0.5"/>
<text x="204.20" y="148.30" font-size="4.0" fill="#333" text-anchor="end">50</text>
<path d="M213.51 219.9V221.1" stroke="#777" stroke-width="0.5"/>
<text x="213.51" y="224.70" font-size="4.0" fill="#333" text-anchor="middle">-40</text>
<path d="M228.92 219.9V221.1" stroke="#777" stroke-width="0.5"/>
<text x="228.92" y="224.70" font-size="4.0" fill="#333" text-anchor="middle">-20</text>
<path d="M244.34 219.9V221.1" stroke="#777" stroke-width="0.5"/>
<text x="244.34" y="224.70" font-size="4.0" fill="#333" text-anchor="middle">0</text>
<path d="M259.75 219.9V221.1" stroke="#777" stroke-width="0.5"/>
<text x="259.75" y="224.70" font-size="4.0" fill="#333" text-anchor="middle">20</text>
<path d="M275.17 219.9V221.1" stroke="#777" stroke-width="0.5"/>
<text x="275.17" y="224.70" font-size="4.0" fill="#333" text-anchor="middle">40</text>
<path d="M290.58 219.9V221.1" stroke="#777" stroke-width="0.5"/>
<text x="290.58" y="224.70" font-size="4.0" fill="#333" text-anchor="middle">60</text>
<path d="M306.00 219.9V221.1" stroke="#777" stroke-width="0.5"/>
<text x="306.00" y="224.70" font-size="4.0" fill="#333" text-anchor="middle">80</text>
<rect x="281.40" y="147.70" width="23.4" height="9.5" fill="#fff" stroke="#E0E0E0" stroke-width="0.4"/>
<rect x="281.70" y="148.30" width="8.3" height="3.7" fill="#FDCA8F"/>
<rect x="281.70" y="152.90" width="8.3" height="3.7" fill="#8FD39A"/>
<text x="291.30" y="151.50" font-size="4.0" fill="#222" textLength="13" lengthAdjust="spacingAndGlyphs">Training</text>
<text x="291.30" y="156.10" font-size="4.0" fill="#222" textLength="12" lengthAdjust="spacingAndGlyphs">Testing</text>
<clipPath id="clipe"><rect x="67.3" y="11.0" width="243.0" height="216.4"/></clipPath>
<g clip-path="url(#clipe)" fill="none" stroke-width="1.6" stroke-dasharray="5.2 3.6 1.3 4.9">
<line x1="67.3" y1="227.4" x2="310.3" y2="11.0" stroke="#FF0000"/>
<line x1="67.3" y1="227.4" x2="269.8" y2="11.0" stroke="#7030A0"/>
<line x1="67.3" y1="227.4" x2="310.3" y2="54.28" stroke="#7030A0"/>
</g>
<rect x="67.6" y="11.2" width="242.7" height="216.2" fill="none" stroke="#2a2a2a" stroke-width="1.3"/>
<g transform="translate(220.5 57.599999999999994) rotate(-47)"><text x="0.00" y="0.00" font-size="12.0" font-family="Liberation Serif" font-weight="bold" fill="#000" textLength="44" lengthAdjust="spacingAndGlyphs" stroke="#000" stroke-width="0.25"><tspan font-style="italic">y</tspan> = 1.2<tspan font-style="italic">x</tspan></text></g>
<g transform="translate(266.40000000000003 100.3) rotate(-34.5)"><text x="0.00" y="0.00" font-size="11.8" font-family="Liberation Serif" font-weight="bold" fill="#000" textLength="44.5" lengthAdjust="spacingAndGlyphs" stroke="#000" stroke-width="0.25"><tspan font-style="italic">y</tspan> = 0.8<tspan font-style="italic">x</tspan></text></g>
<path d="M156.5 194.9L161.5 199.9M156.5 199.9L161.5 194.9" stroke="#F4B183" stroke-width="1.2"/>
<text x="164.10" y="200.20" font-size="9.2" fill="#333" textLength="27.6" lengthAdjust="spacingAndGlyphs" stroke="#333" stroke-width="0.2">Training</text>
<path d="M156.5 210.7L161.5 215.7M156.5 215.7L161.5 210.7" stroke="#548235" stroke-width="1.2"/>
<text x="164.10" y="216.00" font-size="9.2" fill="#333" textLength="24.5" lengthAdjust="spacingAndGlyphs" stroke="#333" stroke-width="0.2">Testing</text>
</g>
<g transform="translate(342.5 601.5)">
<text x="59.70" y="230.30" font-size="8.4" fill="#404040" text-anchor="end" textLength="15.3" lengthAdjust="spacingAndGlyphs" stroke="#404040" stroke-width="0.12">0.00</text>
<text x="59.70" y="194.23" font-size="8.4" fill="#404040" text-anchor="end" textLength="19.2" lengthAdjust="spacingAndGlyphs" stroke="#404040" stroke-width="0.12">50.00</text>
<text x="59.70" y="158.17" font-size="8.4" fill="#404040" text-anchor="end" textLength="24.0" lengthAdjust="spacingAndGlyphs" stroke="#404040" stroke-width="0.12">100.00</text>
<text x="59.70" y="122.10" font-size="8.4" fill="#404040" text-anchor="end" textLength="24.0" lengthAdjust="spacingAndGlyphs" stroke="#404040" stroke-width="0.12">150.00</text>
<text x="59.70" y="86.03" font-size="8.4" fill="#404040" text-anchor="end" textLength="24.0" lengthAdjust="spacingAndGlyphs" stroke="#404040" stroke-width="0.12">200.00</text>
<text x="59.70" y="49.97" font-size="8.4" fill="#404040" text-anchor="end" textLength="24.0" lengthAdjust="spacingAndGlyphs" stroke="#404040" stroke-width="0.12">250.00</text>
<text x="59.70" y="13.90" font-size="8.4" fill="#404040" text-anchor="end" textLength="24.0" lengthAdjust="spacingAndGlyphs" stroke="#404040" stroke-width="0.12">300.00</text>
<text x="67.30" y="241.90" font-size="8.4" fill="#404040" text-anchor="middle" textLength="15.2" lengthAdjust="spacingAndGlyphs" stroke="#404040" stroke-width="0.12">0.00</text>
<text x="107.80" y="241.90" font-size="8.4" fill="#404040" text-anchor="middle" textLength="19.4" lengthAdjust="spacingAndGlyphs" stroke="#404040" stroke-width="0.12">50.00</text>
<text x="148.30" y="241.90" font-size="8.4" fill="#404040" text-anchor="middle" textLength="24.4" lengthAdjust="spacingAndGlyphs" stroke="#404040" stroke-width="0.12">100.00</text>
<text x="188.80" y="241.90" font-size="8.4" fill="#404040" text-anchor="middle" textLength="24.4" lengthAdjust="spacingAndGlyphs" stroke="#404040" stroke-width="0.12">150.00</text>
<text x="229.30" y="241.90" font-size="8.4" fill="#404040" text-anchor="middle" textLength="24.4" lengthAdjust="spacingAndGlyphs" stroke="#404040" stroke-width="0.12">200.00</text>
<text x="269.80" y="241.90" font-size="8.4" fill="#404040" text-anchor="middle" textLength="24.4" lengthAdjust="spacingAndGlyphs" stroke="#404040" stroke-width="0.12">250.00</text>
<text x="310.30" y="241.90" font-size="8.4" fill="#404040" text-anchor="middle" textLength="24.4" lengthAdjust="spacingAndGlyphs" stroke="#404040" stroke-width="0.12">300.00</text>
<text x="189.00" y="256.00" font-size="9.4" fill="#333" text-anchor="middle" textLength="81" lengthAdjust="spacingAndGlyphs" stroke="#333" stroke-width="0.2">Actual PPV (mm/sec)</text>
<g transform="translate(32.3 119.1) rotate(-90)"><text x="0.00" y="0.00" font-size="9.4" fill="#333" text-anchor="middle" textLength="92.6" lengthAdjust="spacingAndGlyphs" stroke="#333" stroke-width="0.2">Predicted PPV (mm/sec)</text></g>
<text x="171.50" y="282.00" font-size="13.6" font-family="Liberation Serif" font-weight="bold" fill="#000" text-anchor="middle">(f)</text>
<text x="72.30" y="23.00" font-size="9.9" font-weight="bold" fill="#262626" textLength="65.1" lengthAdjust="spacingAndGlyphs" stroke="#262626" stroke-width="0.25">Training Phase:</text>
<text x="72.30" y="35.60" font-size="9.9" fill="#262626" textLength="104" lengthAdjust="spacingAndGlyphs" stroke="#262626" stroke-width="0.25">RMSE = 20.2579mm/sec</text>
<text x="72.30" y="48.20" font-size="9.9" fill="#262626" textLength="45" lengthAdjust="spacingAndGlyphs" stroke="#262626" stroke-width="0.25">R = 0.9114</text>
<text x="72.30" y="60.80" font-size="9.9" fill="#262626" textLength="50.8" lengthAdjust="spacingAndGlyphs" stroke="#262626" stroke-width="0.25">VAF = 83.04</text>
<text x="72.30" y="73.40" font-size="9.9" fill="#262626" textLength="35.9" lengthAdjust="spacingAndGlyphs" stroke="#262626" stroke-width="0.25">PI = 1.58</text>
<text x="72.30" y="86.00" font-size="9.9" font-weight="bold" fill="#262626" textLength="61.3" lengthAdjust="spacingAndGlyphs" stroke="#262626" stroke-width="0.25">Testing Phase:</text>
<text x="72.30" y="98.60" font-size="9.9" fill="#262626" textLength="104" lengthAdjust="spacingAndGlyphs" stroke="#262626" stroke-width="0.25">RMSE = 21.2999mm/sec</text>
<text x="72.30" y="111.20" font-size="9.9" fill="#262626" textLength="45" lengthAdjust="spacingAndGlyphs" stroke="#262626" stroke-width="0.25">R = 0.9175</text>
<text x="72.30" y="123.80" font-size="9.9" fill="#262626" textLength="50.8" lengthAdjust="spacingAndGlyphs" stroke="#262626" stroke-width="0.25">VAF = 83.92</text>
<text x="72.30" y="136.40" font-size="9.9" fill="#262626" textLength="35.9" lengthAdjust="spacingAndGlyphs" stroke="#262626" stroke-width="0.25">PI = 1.59</text>
<path d="M85.4 195.5l6.6 6.6m0 -6.6l-6.6 6.6M91.7 188.9l6.6 6.6m0 -6.6l-6.6 6.6M97.5 190.5l6.6 6.6m0 -6.6l-6.6 6.6M93.4 186.6l6.6 6.6m0 -6.6l-6.6 6.6M95.7 207.7l6.6 6.6m0 -6.6l-6.6 6.6M79.0 204.4l6.6 6.6m0 -6.6l-6.6 6.6M106.2 191.0l6.6 6.6m0 -6.6l-6.6 6.6M94.7 205.4l6.6 6.6m0 -6.6l-6.6 6.6M116.6 199.1l6.6 6.6m0 -6.6l-6.6 6.6M83.4 205.0l6.6 6.6m0 -6.6l-6.6 6.6M95.4 192.8l6.6 6.6m0 -6.6l-6.6 6.6M99.7 186.4l6.6 6.6m0 -6.6l-6.6 6.6M95.8 205.7l6.6 6.6m0 -6.6l-6.6 6.6M73.5 202.1l6.6 6.6m0 -6.6l-6.6 6.6M113.3 184.3l6.6 6.6m0 -6.6l-6.6 6.6M78.5 197.6l6.6 6.6m0 -6.6l-6.6 6.6M111.2 181.6l6.6 6.6m0 -6.6l-6.6 6.6M105.0 188.7l6.6 6.6m0 -6.6l-6.6 6.6M101.1 199.7l6.6 6.6m0 -6.6l-6.6 6.6M92.6 200.4l6.6 6.6m0 -6.6l-6.6 6.6M105.7 191.4l6.6 6.6m0 -6.6l-6.6 6.6M103.4 186.5l6.6 6.6m0 -6.6l-6.6 6.6M92.5 203.8l6.6 6.6m0 -6.6l-6.6 6.6M99.5 188.9l6.6 6.6m0 -6.6l-6.6 6.6M77.0 206.5l6.6 6.6m0 -6.6l-6.6 6.6M100.6 189.7l6.6 6.6m0 -6.6l-6.6 6.6M82.5 195.0l6.6 6.6m0 -6.6l-6.6 6.6M110.5 198.7l6.6 6.6m0 -6.6l-6.6 6.6M91.3 193.0l6.6 6.6m0 -6.6l-6.6 6.6M75.4 199.1l6.6 6.6m0 -6.6l-6.6 6.6M96.3 191.1l6.6 6.6m0 -6.6l-6.6 6.6M91.8 192.6l6.6 6.6m0 -6.6l-6.6 6.6M74.5 201.6l6.6 6.6m0 -6.6l-6.6 6.6M96.2 205.3l6.6 6.6m0 -6.6l-6.6 6.6M84.5 207.2l6.6 6.6m0 -6.6l-6.6 6.6M112.6 197.5l6.6 6.6m0 -6.6l-6.6 6.6M92.7 189.4l6.6 6.6m0 -6.6l-6.6 6.6M80.3 195.0l6.6 6.6m0 -6.6l-6.6 6.6M79.5 194.4l6.6 6.6m0 -6.6l-6.6 6.6M93.3 200.1l6.6 6.6m0 -6.6l-6.6 6.6M73.8 203.1l6.6 6.6m0 -6.6l-6.6 6.6M109.3 199.1l6.6 6.6m0 -6.6l-6.6 6.6M87.9 190.9l6.6 6.6m0 -6.6l-6.6 6.6M83.4 193.0l6.6 6.6m0 -6.6l-6.6 6.6M99.6 202.1l6.6 6.6m0 -6.6l-6.6 6.6M87.9 207.6l6.6 6.6m0 -6.6l-6.6 6.6M103.9 197.8l6.6 6.6m0 -6.6l-6.6 6.6M97.3 206.1l6.6 6.6m0 -6.6l-6.6 6.6M93.2 198.5l6.6 6.6m0 -6.6l-6.6 6.6M100.1 204.0l6.6 6.6m0 -6.6l-6.6 6.6M95.7 191.7l6.6 6.6m0 -6.6l-6.6 6.6M93.8 206.5l6.6 6.6m0 -6.6l-6.6 6.6M102.9 202.0l6.6 6.6m0 -6.6l-6.6 6.6M74.8 202.0l6.6 6.6m0 -6.6l-6.6 6.6M79.9 199.8l6.6 6.6m0 -6.6l-6.6 6.6M79.5 201.6l6.6 6.6m0 -6.6l-6.6 6.6M100.9 190.2l6.6 6.6m0 -6.6l-6.6 6.6M98.6 191.2l6.6 6.6m0 -6.6l-6.6 6.6M119.0 179.0l6.6 6.6m0 -6.6l-6.6 6.6M94.5 202.7l6.6 6.6m0 -6.6l-6.6 6.6M73.8 200.1l6.6 6.6m0 -6.6l-6.6 6.6M108.0 201.0l6.6 6.6m0 -6.6l-6.6 6.6M89.2 191.1l6.6 6.6m0 -6.6l-6.6 6.6M85.4 196.8l6.6 6.6m0 -6.6l-6.6 6.6M97.2 205.1l6.6 6.6m0 -6.6l-6.6 6.6M110.3 197.0l6.6 6.6m0 -6.6l-6.6 6.6M110.4 196.2l6.6 6.6m0 -6.6l-6.6 6.6M89.0 188.0l6.6 6.6m0 -6.6l-6.6 6.6M84.6 204.4l6.6 6.6m0 -6.6l-6.6 6.6M104.3 188.3l6.6 6.6m0 -6.6l-6.6 6.6M84.6 196.0l6.6 6.6m0 -6.6l-6.6 6.6M88.4 189.0l6.6 6.6m0 -6.6l-6.6 6.6M118.5 187.7l6.6 6.6m0 -6.6l-6.6 6.6M108.5 190.2l6.6 6.6m0 -6.6l-6.6 6.6M81.8 202.5l6.6 6.6m0 -6.6l-6.6 6.6M84.2 196.5l6.6 6.6m0 -6.6l-6.6 6.6M85.8 205.4l6.6 6.6m0 -6.6l-6.6 6.6M100.8 187.1l6.6 6.6m0 -6.6l-6.6 6.6M77.0 203.1l6.6 6.6m0 -6.6l-6.6 6.6M109.4 180.8l6.6 6.6m0 -6.6l-6.6 6.6M89.7 191.4l6.6 6.6m0 -6.6l-6.6 6.6M85.9 202.7l6.6 6.6m0 -6.6l-6.6 6.6M92.9 189.5l6.6 6.6m0 -6.6l-6.6 6.6M72.2 204.6l6.6 6.6m0 -6.6l-6.6 6.6M94.3 194.0l6.6 6.6m0 -6.6l-6.6 6.6M79.9 205.2l6.6 6.6m0 -6.6l-6.6 6.6M115.8 198.9l6.6 6.6m0 -6.6l-6.6 6.6M116.5 181.8l6.6 6.6m0 -6.6l-6.6 6.6M111.4 196.1l6.6 6.6m0 -6.6l-6.6 6.6M91.7 190.0l6.6 6.6m0 -6.6l-6.6 6.6M110.4 201.9l6.6 6.6m0 -6.6l-6.6 6.6M81.4 198.5l6.6 6.6m0 -6.6l-6.6 6.6M79.6 194.7l6.6 6.6m0 -6.6l-6.6 6.6M101.6 199.7l6.6 6.6m0 -6.6l-6.6 6.6M102.1 193.6l6.6 6.6m0 -6.6l-6.6 6.6M91.6 178.0l6.6 6.6m0 -6.6l-6.6 6.6M108.5 180.5l6.6 6.6m0 -6.6l-6.6 6.6M81.3 186.8l6.6 6.6m0 -6.6l-6.6 6.6M91.5 191.6l6.6 6.6m0 -6.6l-6.6 6.6M119.2 176.0l6.6 6.6m0 -6.6l-6.6 6.6M87.6 180.7l6.6 6.6m0 -6.6l-6.6 6.6M104.8 183.9l6.6 6.6m0 -6.6l-6.6 6.6M83.6 184.4l6.6 6.6m0 -6.6l-6.6 6.6M120.5 175.9l6.6 6.6m0 -6.6l-6.6 6.6M98.9 185.7l6.6 6.6m0 -6.6l-6.6 6.6M90.7 190.7l6.6 6.6m0 -6.6l-6.6 6.6M109.5 170.7l6.6 6.6m0 -6.6l-6.6 6.6M98.4 172.2l6.6 6.6m0 -6.6l-6.6 6.6M107.6 188.8l6.6 6.6m0 -6.6l-6.6 6.6M122.3 178.8l6.6 6.6m0 -6.6l-6.6 6.6M90.4 186.6l6.6 6.6m0 -6.6l-6.6 6.6M84.8 185.7l6.6 6.6m0 -6.6l-6.6 6.6M116.1 187.9l6.6 6.6m0 -6.6l-6.6 6.6M265.0 62.5l6.6 6.6m0 -6.6l-6.6 6.6M212.5 83.6l6.6 6.6m0 -6.6l-6.6 6.6M216.0 82.4l6.6 6.6m0 -6.6l-6.6 6.6M219.5 84.7l6.6 6.6m0 -6.6l-6.6 6.6M225.3 98.3l6.6 6.6m0 -6.6l-6.6 6.6M205.5 99.9l6.6 6.6m0 -6.6l-6.6 6.6M211.3 102.2l6.6 6.6m0 -6.6l-6.6 6.6M218.3 103.4l6.6 6.6m0 -6.6l-6.6 6.6M191.4 99.2l6.6 6.6m0 -6.6l-6.6 6.6M180.9 97.6l6.6 6.6m0 -6.6l-6.6 6.6M176.3 106.9l6.6 6.6m0 -6.6l-6.6 6.6M179.8 110.4l6.6 6.6m0 -6.6l-6.6 6.6M183.3 112.8l6.6 6.6m0 -6.6l-6.6 6.6M185.6 111.6l6.6 6.6m0 -6.6l-6.6 6.6M240.5 111.6l6.6 6.6m0 -6.6l-6.6 6.6M206.6 122.1l6.6 6.6m0 -6.6l-6.6 6.6M145.9 123.3l6.6 6.6m0 -6.6l-6.6 6.6M150.6 132.6l6.6 6.6m0 -6.6l-6.6 6.6M131.9 145.6l6.6 6.6m0 -6.6l-6.6 6.6M134.2 148.5l6.6 6.6m0 -6.6l-6.6 6.6M119.0 152.1l6.6 6.6m0 -6.6l-6.6 6.6M121.4 155.6l6.6 6.6m0 -6.6l-6.6 6.6M120.2 157.9l6.6 6.6m0 -6.6l-6.6 6.6M134.2 153.8l6.6 6.6m0 -6.6l-6.6 6.6M141.2 153.2l6.6 6.6m0 -6.6l-6.6 6.6M143.6 157.3l6.6 6.6m0 -6.6l-6.6 6.6M150.0 143.9l6.6 6.6m0 -6.6l-6.6 6.6M154.1 147.4l6.6 6.6m0 -6.6l-6.6 6.6M166.9 152.1l6.6 6.6m0 -6.6l-6.6 6.6M195.0 149.6l6.6 6.6m0 -6.6l-6.6 6.6M171.0 172.5l6.6 6.6m0 -6.6l-6.6 6.6M158.2 181.2l6.6 6.6m0 -6.6l-6.6 6.6M160.5 183.6l6.6 6.6m0 -6.6l-6.6 6.6M148.2 188.8l6.6 6.6m0 -6.6l-6.6 6.6M123.7 169.6l6.6 6.6m0 -6.6l-6.6 6.6M128.4 169.6l6.6 6.6m0 -6.6l-6.6 6.6M137.7 169.0l6.6 6.6m0 -6.6l-6.6 6.6M119.0 176.6l6.6 6.6m0 -6.6l-6.6 6.6M122.5 175.4l6.6 6.6m0 -6.6l-6.6 6.6M123.7 178.9l6.6 6.6m0 -6.6l-6.6 6.6M117.9 184.8l6.6 6.6m0 -6.6l-6.6 6.6M119.0 187.1l6.6 6.6m0 -6.6l-6.6 6.6M119.0 198.8l6.6 6.6m0 -6.6l-6.6 6.6M128.4 197.6l6.6 6.6m0 -6.6l-6.6 6.6M129.5 200.5l6.6 6.6m0 -6.6l-6.6 6.6M170.4 137.5l6.6 6.6m0 -6.6l-6.6 6.6M112.7 145.5l6.6 6.6m0 -6.6l-6.6 6.6M115.1 182.2l6.6 6.6m0 -6.6l-6.6 6.6M109.2 166.5l6.6 6.6m0 -6.6l-6.6 6.6M101.1 178.7l6.6 6.6m0 -6.6l-6.6 6.6M93.5 174.7l6.6 6.6m0 -6.6l-6.6 6.6M106.9 204.4l6.6 6.6m0 -6.6l-6.6 6.6" stroke="#F4B183" stroke-width="1.0" fill="none"/>
<path d="M131.9 138.9l6.6 6.6m0 -6.6l-6.6 6.6M140.1 136.1l6.6 6.6m0 -6.6l-6.6 6.6M141.2 137.5l6.6 6.6m0 -6.6l-6.6 6.6M163.4 126.8l6.6 6.6m0 -6.6l-6.6 6.6M169.2 125.6l6.6 6.6m0 -6.6l-6.6 6.6M177.4 125.6l6.6 6.6m0 -6.6l-6.6 6.6M169.2 135.7l6.6 6.6m0 -6.6l-6.6 6.6M180.3 140.9l6.6 6.6m0 -6.6l-6.6 6.6M196.1 130.3l6.6 6.6m0 -6.6l-6.6 6.6M126.6 198.8l6.6 6.6m0 -6.6l-6.6 6.6M77.7 197.4l6.6 6.6m0 -6.6l-6.6 6.6M84.1 198.0l6.6 6.6m0 -6.6l-6.6 6.6M91.7 196.3l6.6 6.6m0 -6.6l-6.6 6.6M97.6 196.8l6.6 6.6m0 -6.6l-6.6 6.6M106.9 196.8l6.6 6.6m0 -6.6l-6.6 6.6M222.4 118.8l6.6 6.6m0 -6.6l-6.6 6.6M140.1 154.6l6.6 6.6m0 -6.6l-6.6 6.6" stroke="#548235" stroke-width="1.0" fill="none"/>
<rect x="201.8" y="145.7" width="104.79999999999995" height="80.9" fill="#fff"/>
<rect x="207.0" y="147.2" width="98.39999999999998" height="72.4" fill="none" stroke="#C8C8C8" stroke-width="0.9"/>
<rect x="207.00" y="217.90" width="3.78" height="1.70" fill="#FDCA8F" stroke="#D4A26A" stroke-width="0.35"/>
<text x="208.89" y="220.35" font-size="4.4" fill="#222" text-anchor="middle" stroke="#222" stroke-width="0.1">1</text>
<text x="212.68" y="221.20" font-size="4.4" fill="#222" text-anchor="middle" stroke="#222" stroke-width="0.1">0</text>
<rect x="214.57" y="214.50" width="3.78" height="5.10" fill="#FDCA8F" stroke="#D4A26A" stroke-width="0.35"/>
<text x="216.46" y="218.65" font-size="4.4" fill="#222" text-anchor="middle" stroke="#222" stroke-width="0.1">3</text>
<rect x="218.35" y="217.90" width="3.78" height="1.70" fill="#8FD39A" stroke="#5DA86A" stroke-width="0.35"/>
<text x="220.25" y="220.35" font-size="4.4" fill="#222" text-anchor="middle" stroke="#222" stroke-width="0.1">1</text>
<rect x="222.14" y="197.50" width="3.78" height="22.10" fill="#FDCA8F" stroke="#D4A26A" stroke-width="0.35"/>
<text x="224.03" y="210.15" font-size="4.4" fill="#222" text-anchor="middle" stroke="#222" stroke-width="0.1">13</text>
<rect x="225.92" y="217.90" width="3.78" height="1.70" fill="#8FD39A" stroke="#5DA86A" stroke-width="0.35"/>
<text x="227.82" y="220.35" font-size="4.4" fill="#222" text-anchor="middle" stroke="#222" stroke-width="0.1">1</text>
<rect x="229.71" y="158.40" width="3.78" height="61.20" fill="#FDCA8F" stroke="#D4A26A" stroke-width="0.35"/>
<text x="231.60" y="190.60" font-size="4.4" fill="#222" text-anchor="middle" stroke="#222" stroke-width="0.1">36</text>
<rect x="233.49" y="212.80" width="3.78" height="6.80" fill="#8FD39A" stroke="#5DA86A" stroke-width="0.35"/>
<text x="235.38" y="217.80" font-size="4.4" fill="#222" text-anchor="middle" stroke="#222" stroke-width="0.1">4</text>
<rect x="237.28" y="155.00" width="3.78" height="64.60" fill="#FDCA8F" stroke="#D4A26A" stroke-width="0.35"/>
<text x="239.17" y="188.90" font-size="4.4" fill="#222" text-anchor="middle" stroke="#222" stroke-width="0.1">38</text>
<rect x="241.06" y="212.80" width="3.78" height="6.80" fill="#8FD39A" stroke="#5DA86A" stroke-width="0.35"/>
<text x="242.95" y="217.80" font-size="4.4" fill="#222" text-anchor="middle" stroke="#222" stroke-width="0.1">4</text>
<rect x="244.85" y="156.70" width="3.78" height="62.90" fill="#FDCA8F" stroke="#D4A26A" stroke-width="0.35"/>
<text x="246.74" y="189.75" font-size="4.4" fill="#222" text-anchor="middle" stroke="#222" stroke-width="0.1">37</text>
<rect x="248.63" y="211.10" width="3.78" height="8.50" fill="#8FD39A" stroke="#5DA86A" stroke-width="0.35"/>
<text x="250.52" y="216.95" font-size="4.4" fill="#222" text-anchor="middle" stroke="#222" stroke-width="0.1">5</text>
<rect x="252.42" y="200.90" width="3.78" height="18.70" fill="#FDCA8F" stroke="#D4A26A" stroke-width="0.35"/>
<text x="254.31" y="211.85" font-size="4.4" fill="#222" text-anchor="middle" stroke="#222" stroke-width="0.1">11</text>
<rect x="256.20" y="217.90" width="3.78" height="1.70" fill="#8FD39A" stroke="#5DA86A" stroke-width="0.35"/>
<text x="258.09" y="220.35" font-size="4.4" fill="#222" text-anchor="middle" stroke="#222" stroke-width="0.1">1</text>
<rect x="259.98" y="204.30" width="3.78" height="15.30" fill="#FDCA8F" stroke="#D4A26A" stroke-width="0.35"/>
<text x="261.88" y="213.55" font-size="4.4" fill="#222" text-anchor="middle" stroke="#222" stroke-width="0.1">9</text>
<rect x="263.77" y="217.90" width="3.78" height="1.70" fill="#8FD39A" stroke="#5DA86A" stroke-width="0.35"/>
<text x="265.66" y="220.35" font-size="4.4" fill="#222" text-anchor="middle" stroke="#222" stroke-width="0.1">1</text>
<rect x="267.55" y="214.50" width="3.78" height="5.10" fill="#FDCA8F" stroke="#D4A26A" stroke-width="0.35"/>
<text x="269.45" y="218.65" font-size="4.4" fill="#222" text-anchor="middle" stroke="#222" stroke-width="0.1">3</text>
<rect x="271.34" y="217.90" width="3.78" height="1.70" fill="#8FD39A" stroke="#5DA86A" stroke-width="0.35"/>
<text x="273.23" y="220.35" font-size="4.4" fill="#222" text-anchor="middle" stroke="#222" stroke-width="0.1">1</text>
<rect x="275.12" y="216.20" width="3.78" height="3.40" fill="#FDCA8F" stroke="#D4A26A" stroke-width="0.35"/>
<text x="277.02" y="219.50" font-size="4.4" fill="#222" text-anchor="middle" stroke="#222" stroke-width="0.1">2</text>
<rect x="278.91" y="216.20" width="3.78" height="3.40" fill="#8FD39A" stroke="#5DA86A" stroke-width="0.35"/>
<text x="280.80" y="219.50" font-size="4.4" fill="#222" text-anchor="middle" stroke="#222" stroke-width="0.1">2</text>
<rect x="282.69" y="216.20" width="3.78" height="3.40" fill="#FDCA8F" stroke="#D4A26A" stroke-width="0.35"/>
<text x="284.58" y="219.50" font-size="4.4" fill="#222" text-anchor="middle" stroke="#222" stroke-width="0.1">2</text>
<text x="288.37" y="221.20" font-size="4.4" fill="#222" text-anchor="middle" stroke="#222" stroke-width="0.1">0</text>
<rect x="290.26" y="212.80" width="3.78" height="6.80" fill="#FDCA8F" stroke="#D4A26A" stroke-width="0.35"/>
<text x="292.15" y="217.80" font-size="4.4" fill="#222" text-anchor="middle" stroke="#222" stroke-width="0.1">4</text>
<text x="295.94" y="221.20" font-size="4.4" fill="#222" text-anchor="middle" stroke="#222" stroke-width="0.1">0</text>
<rect x="297.83" y="217.90" width="3.78" height="1.70" fill="#FDCA8F" stroke="#D4A26A" stroke-width="0.35"/>
<text x="299.72" y="220.35" font-size="4.4" fill="#222" text-anchor="middle" stroke="#222" stroke-width="0.1">1</text>
<text x="303.51" y="221.20" font-size="4.4" fill="#222" text-anchor="middle" stroke="#222" stroke-width="0.1">0</text>
<path d="M207.0 147.2V219.6H305.4" fill="none" stroke="#777" stroke-width="0.6"/>
<path d="M205.80 219.60H207.0" stroke="#777" stroke-width="0.5"/>
<text x="205.40" y="221.00" font-size="4.0" fill="#333" text-anchor="end">0</text>
<path d="M206.30 215.35H207.0" stroke="#777" stroke-width="0.4"/>
<path d="M205.80 211.10H207.0" stroke="#777" stroke-width="0.5"/>
<text x="205.40" y="212.50" font-size="4.0" fill="#333" text-anchor="end">5</text>
<path d="M206.30 206.85H207.0" stroke="#777" stroke-width="0.4"/>
<path d="M205.80 202.60H207.0" stroke="#777" stroke-width="0.5"/>
<text x="205.40" y="204.00" font-size="4.0" fill="#333" text-anchor="end">10</text>
<path d="M206.30 198.35H207.0" stroke="#777" stroke-width="0.4"/>
<path d="M205.80 194.10H207.0" stroke="#777" stroke-width="0.5"/>
<text x="205.40" y="195.50" font-size="4.0" fill="#333" text-anchor="end">15</text>
<path d="M206.30 189.85H207.0" stroke="#777" stroke-width="0.4"/>
<path d="M205.80 185.60H207.0" stroke="#777" stroke-width="0.5"/>
<text x="205.40" y="187.00" font-size="4.0" fill="#333" text-anchor="end">20</text>
<path d="M206.30 181.35H207.0" stroke="#777" stroke-width="0.4"/>
<path d="M205.80 177.10H207.0" stroke="#777" stroke-width="0.5"/>
<text x="205.40" y="178.50" font-size="4.0" fill="#333" text-anchor="end">25</text>
<path d="M206.30 172.85H207.0" stroke="#777" stroke-width="0.4"/>
<path d="M205.80 168.60H207.0" stroke="#777" stroke-width="0.5"/>
<text x="205.40" y="170.00" font-size="4.0" fill="#333" text-anchor="end">30</text>
<path d="M206.30 164.35H207.0" stroke="#777" stroke-width="0.4"/>
<path d="M205.80 160.10H207.0" stroke="#777" stroke-width="0.5"/>
<text x="205.40" y="161.50" font-size="4.0" fill="#333" text-anchor="end">35</text>
<path d="M206.30 155.85H207.0" stroke="#777" stroke-width="0.4"/>
<path d="M205.80 151.60H207.0" stroke="#777" stroke-width="0.5"/>
<text x="205.40" y="153.00" font-size="4.0" fill="#333" text-anchor="end">40</text>
<path d="M214.57 219.6V220.79999999999998" stroke="#777" stroke-width="0.5"/>
<text x="214.57" y="224.40" font-size="4.0" fill="#333" text-anchor="middle">-40</text>
<path d="M229.71 219.6V220.79999999999998" stroke="#777" stroke-width="0.5"/>
<text x="229.71" y="224.40" font-size="4.0" fill="#333" text-anchor="middle">-20</text>
<path d="M244.85 219.6V220.79999999999998" stroke="#777" stroke-width="0.5"/>
<text x="244.85" y="224.40" font-size="4.0" fill="#333" text-anchor="middle">0</text>
<path d="M259.98 219.6V220.79999999999998" stroke="#777" stroke-width="0.5"/>
<text x="259.98" y="224.40" font-size="4.0" fill="#333" text-anchor="middle">20</text>
<path d="M275.12 219.6V220.79999999999998" stroke="#777" stroke-width="0.5"/>
<text x="275.12" y="224.40" font-size="4.0" fill="#333" text-anchor="middle">40</text>
<path d="M290.26 219.6V220.79999999999998" stroke="#777" stroke-width="0.5"/>
<text x="290.26" y="224.40" font-size="4.0" fill="#333" text-anchor="middle">60</text>
<path d="M305.40 219.6V220.79999999999998" stroke="#777" stroke-width="0.5"/>
<text x="305.40" y="224.40" font-size="4.0" fill="#333" text-anchor="middle">80</text>
<rect x="280.80" y="148.00" width="23.4" height="9.5" fill="#fff" stroke="#E0E0E0" stroke-width="0.4"/>
<rect x="281.10" y="148.60" width="8.3" height="3.7" fill="#FDCA8F"/>
<rect x="281.10" y="153.20" width="8.3" height="3.7" fill="#8FD39A"/>
<text x="290.70" y="151.80" font-size="4.0" fill="#222" textLength="13" lengthAdjust="spacingAndGlyphs">Training</text>
<text x="290.70" y="156.40" font-size="4.0" fill="#222" textLength="12" lengthAdjust="spacingAndGlyphs">Testing</text>
<clipPath id="clipf"><rect x="67.3" y="11.0" width="243.0" height="216.4"/></clipPath>
<g clip-path="url(#clipf)" fill="none" stroke-width="1.6" stroke-dasharray="5.2 3.6 1.3 4.9">
<line x1="67.3" y1="227.4" x2="310.3" y2="11.0" stroke="#FF0000"/>
<line x1="67.3" y1="227.4" x2="269.8" y2="11.0" stroke="#7030A0"/>
<line x1="67.3" y1="227.4" x2="310.3" y2="54.28" stroke="#7030A0"/>
</g>
<rect x="67.6" y="11.2" width="242.7" height="216.2" fill="none" stroke="#2a2a2a" stroke-width="1.3"/>
<g transform="translate(222.5 54.099999999999994) rotate(-47)"><text x="0.00" y="0.00" font-size="12.0" font-family="Liberation Serif" font-weight="bold" fill="#000" textLength="44" lengthAdjust="spacingAndGlyphs" stroke="#000" stroke-width="0.25"><tspan font-style="italic">y</tspan> = 1.2<tspan font-style="italic">x</tspan></text></g>
<g transform="translate(266.40000000000003 100.3) rotate(-34.5)"><text x="0.00" y="0.00" font-size="11.8" font-family="Liberation Serif" font-weight="bold" fill="#000" textLength="44.5" lengthAdjust="spacingAndGlyphs" stroke="#000" stroke-width="0.25"><tspan font-style="italic">y</tspan> = 0.8<tspan font-style="italic">x</tspan></text></g>
<path d="M162.0 195.7L167.0 200.7M162.0 200.7L167.0 195.7" stroke="#F4B183" stroke-width="1.2"/>
<text x="169.60" y="201.00" font-size="9.2" fill="#333" textLength="27.6" lengthAdjust="spacingAndGlyphs" stroke="#333" stroke-width="0.2">Training</text>
<path d="M162.0 211.7L167.0 216.7M162.0 216.7L167.0 211.7" stroke="#548235" stroke-width="1.2"/>
<text x="169.60" y="217.00" font-size="9.2" fill="#333" textLength="24.5" lengthAdjust="spacingAndGlyphs" stroke="#333" stroke-width="0.2">Testing</text>
</g>
<g stroke="#404040" stroke-width="1" fill="none">
<line x1="0" y1="0.5" x2="685" y2="0.5"/>
<line x1="0.5" y1="0" x2="0.5" y2="888"/>
<line x1="684.5" y1="0" x2="684.5" y2="888" stroke="#808080"/>
<line x1="0" y1="887.5" x2="685" y2="887.5"/>
<line x1="342.5" y1="0" x2="342.5" y2="888"/>
<line x1="0" y1="301.1" x2="685" y2="301.1" stroke="#5a5a5a" stroke-width="1.5"/>
<line x1="0" y1="601.8" x2="685" y2="601.8" stroke="#707070" stroke-width="1.6"/>
</g>
</svg></body></html>
